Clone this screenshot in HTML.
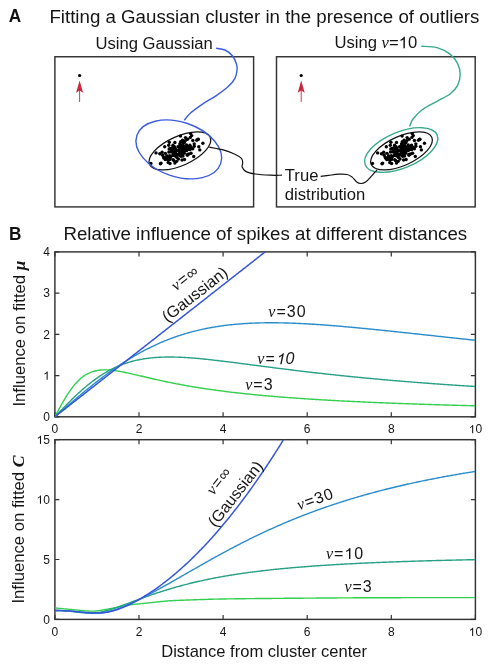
<!DOCTYPE html>
<html><head><meta charset="utf-8"><style>
html,body{margin:0;padding:0;background:#fff;}
body{width:491px;height:666px;position:relative;overflow:hidden;font-family:"Liberation Sans",sans-serif;}
</style></head><body>
<svg width="491" height="666" viewBox="0 0 491 666" style="position:absolute;left:0;top:0;will-change:transform">
<text transform="translate(8.7 22.0) scale(1 1.08)" x="0" y="0" font-family="Liberation Sans" font-weight="bold" font-size="17.2" fill="#111">A</text>
<text x="49.4" y="22.7" font-family="Liberation Sans" font-size="18.7" fill="#151515">Fitting a Gaussian cluster in the presence of outliers</text>
<text x="95.4" y="48.9" font-family="Liberation Sans" font-size="16.65" fill="#151515">Using Gaussian</text>
<text x="334.4" y="48.3" font-family="Liberation Sans" font-size="16.65" fill="#151515">Using <tspan font-family="Liberation Serif" font-style="italic">ν</tspan>=<tspan id="o0" fill="transparent">1</tspan>0</text>
<text x="284.8" y="181.1" font-family="Liberation Sans" font-size="16.65" fill="#151515">True</text>
<text x="284.8" y="199.8" font-family="Liberation Sans" font-size="16.65" fill="#151515">distribution</text>
<rect x="54.9" y="56.75" width="198.7" height="150.15" fill="none" stroke="#333333" stroke-width="1.45"/>
<rect x="276.5" y="56.75" width="198.7" height="150.15" fill="none" stroke="#333333" stroke-width="1.45"/>
<circle cx="79.6" cy="75.5" r="1.6" fill="#000"/>
<line x1="79.6" y1="102" x2="79.6" y2="88" stroke="#c62a3c" stroke-width="0.9"/>
<path d="M79.6 80.4 L83.1 92.8 L79.6 90.6 L76.1 92.8 Z" fill="#c62a3c"/>
<circle cx="301.2" cy="75.5" r="1.6" fill="#000"/>
<line x1="301.2" y1="102" x2="301.2" y2="88" stroke="#c62a3c" stroke-width="0.9"/>
<path d="M301.2 80.4 L304.7 92.8 L301.2 90.6 L297.7 92.8 Z" fill="#c62a3c"/>
<ellipse cx="179.9" cy="150.9" rx="33.2" ry="14.6" transform="rotate(-24.2 179.9 150.9)" fill="none" stroke="#111" stroke-width="1.25"/>
<g fill="#000"><circle cx="156" cy="152.9" r="1.7"/><circle cx="161.1" cy="163.1" r="1.7"/><circle cx="162.1" cy="152.2" r="1.7"/><circle cx="164.7" cy="146.8" r="1.7"/><circle cx="163.7" cy="157.5" r="1.7"/><circle cx="165.2" cy="159.5" r="1.7"/><circle cx="168.2" cy="162.6" r="1.7"/><circle cx="169.3" cy="142.2" r="1.7"/><circle cx="168.7" cy="145.3" r="1.7"/><circle cx="180.5" cy="136.1" r="1.7"/><circle cx="185.5" cy="137.6" r="1.7"/><circle cx="187.6" cy="139.2" r="1.7"/><circle cx="190.6" cy="133.6" r="1.7"/><circle cx="191.7" cy="135.6" r="1.7"/><circle cx="196.8" cy="140.2" r="1.7"/><circle cx="198.3" cy="139.2" r="1.7"/><circle cx="202.9" cy="143.2" r="1.7"/><circle cx="198.8" cy="146.8" r="1.7"/><circle cx="199.8" cy="149.9" r="1.7"/><circle cx="194.2" cy="146.3" r="1.7"/><circle cx="193.7" cy="156.5" r="1.7"/><circle cx="184.5" cy="159.5" r="1.7"/><circle cx="182" cy="160" r="1.7"/><circle cx="178.4" cy="159" r="1.7"/><circle cx="173.8" cy="160.5" r="1.7"/><circle cx="174.9" cy="163.1" r="1.7"/><circle cx="182.5" cy="140.2" r="1.7"/><circle cx="183.5" cy="143.2" r="1.7"/><circle cx="150.9" cy="163.4" r="1.7"/><circle cx="160.4" cy="163.8" r="1.7"/><circle cx="197.8" cy="139.4" r="1.7"/><circle cx="181.1" cy="156.19" r="1.7"/><circle cx="186.62" cy="144.96" r="1.7"/><circle cx="175.23" cy="150.44" r="1.7"/><circle cx="182.55" cy="149.02" r="1.7"/><circle cx="180.65" cy="141.77" r="1.7"/><circle cx="189.91" cy="145.24" r="1.7"/><circle cx="183.23" cy="148.32" r="1.7"/><circle cx="176.4" cy="154.39" r="1.7"/><circle cx="184.19" cy="147.55" r="1.7"/><circle cx="178.49" cy="154.38" r="1.7"/><circle cx="169.19" cy="148.89" r="1.7"/><circle cx="180.14" cy="147.39" r="1.7"/><circle cx="162.61" cy="155.29" r="1.7"/><circle cx="172.77" cy="148.6" r="1.7"/><circle cx="167.33" cy="156.87" r="1.7"/><circle cx="184.67" cy="147.18" r="1.7"/><circle cx="173.54" cy="155.42" r="1.7"/><circle cx="183.21" cy="147.58" r="1.7"/><circle cx="184.34" cy="153.16" r="1.7"/><circle cx="175.39" cy="149.06" r="1.7"/><circle cx="181.44" cy="150.95" r="1.7"/><circle cx="184.29" cy="142.57" r="1.7"/><circle cx="171.96" cy="150.62" r="1.7"/><circle cx="165.69" cy="158.08" r="1.7"/><circle cx="181.01" cy="146.66" r="1.7"/><circle cx="190.21" cy="149.29" r="1.7"/><circle cx="183.8" cy="150.5" r="1.7"/><circle cx="183.14" cy="142.91" r="1.7"/><circle cx="184.06" cy="151.29" r="1.7"/><circle cx="165.84" cy="159.01" r="1.7"/><circle cx="177.94" cy="155.09" r="1.7"/><circle cx="175.09" cy="152.83" r="1.7"/><circle cx="179.38" cy="146.82" r="1.7"/><circle cx="182.68" cy="148.74" r="1.7"/><circle cx="181.14" cy="147.59" r="1.7"/><circle cx="187.59" cy="149.58" r="1.7"/><circle cx="178.21" cy="154.28" r="1.7"/><circle cx="191.02" cy="153.32" r="1.7"/><circle cx="168.25" cy="160.28" r="1.7"/><circle cx="181.7" cy="149.26" r="1.7"/><circle cx="173.15" cy="159.6" r="1.7"/><circle cx="170.01" cy="157.98" r="1.7"/><circle cx="185.24" cy="140.67" r="1.7"/><circle cx="173.79" cy="147.58" r="1.7"/><circle cx="182.94" cy="155.99" r="1.7"/><circle cx="190.3" cy="137.38" r="1.7"/><circle cx="175.38" cy="155.98" r="1.7"/><circle cx="190.94" cy="147.11" r="1.7"/><circle cx="173.37" cy="155.11" r="1.7"/><circle cx="177.91" cy="150.61" r="1.7"/><circle cx="173.62" cy="155.4" r="1.7"/><circle cx="180.53" cy="149.84" r="1.7"/><circle cx="174.44" cy="147.37" r="1.7"/><circle cx="176.94" cy="157.51" r="1.7"/><circle cx="174.39" cy="146.69" r="1.7"/><circle cx="189.31" cy="148.4" r="1.7"/><circle cx="194.24" cy="143.86" r="1.7"/><circle cx="172.36" cy="147.64" r="1.7"/><circle cx="171.11" cy="151.9" r="1.7"/><circle cx="181.36" cy="146.07" r="1.7"/><circle cx="175.75" cy="151" r="1.7"/><circle cx="181.8" cy="154.64" r="1.7"/><circle cx="180.22" cy="154.61" r="1.7"/><circle cx="175.86" cy="154.04" r="1.7"/><circle cx="159.84" cy="153.74" r="1.7"/><circle cx="183.28" cy="146.23" r="1.7"/><circle cx="183.7" cy="151.19" r="1.7"/><circle cx="189.72" cy="149.48" r="1.7"/><circle cx="185.79" cy="147.19" r="1.7"/><circle cx="171.88" cy="151.14" r="1.7"/><circle cx="172.73" cy="148.91" r="1.7"/><circle cx="174.15" cy="152.95" r="1.7"/><circle cx="179.67" cy="149.14" r="1.7"/><circle cx="163.92" cy="158.03" r="1.7"/><circle cx="182.03" cy="154.48" r="1.7"/><circle cx="181.55" cy="146.83" r="1.7"/><circle cx="176.61" cy="161.34" r="1.7"/><circle cx="187.34" cy="155.3" r="1.7"/><circle cx="192.82" cy="140.54" r="1.7"/><circle cx="182.1" cy="151.59" r="1.7"/><circle cx="183.55" cy="151.26" r="1.7"/><circle cx="180.22" cy="151.21" r="1.7"/><circle cx="166.89" cy="156.16" r="1.7"/><circle cx="173.05" cy="154.48" r="1.7"/><circle cx="176.02" cy="155.28" r="1.7"/><circle cx="185.07" cy="149.46" r="1.7"/><circle cx="180.93" cy="150.49" r="1.7"/><circle cx="174.76" cy="152.32" r="1.7"/><circle cx="175.4" cy="154.53" r="1.7"/><circle cx="179.55" cy="153.39" r="1.7"/><circle cx="170.08" cy="159.41" r="1.7"/><circle cx="171.39" cy="151.37" r="1.7"/><circle cx="175.91" cy="149.94" r="1.7"/><circle cx="179.54" cy="148.12" r="1.7"/><circle cx="168.9" cy="152.07" r="1.7"/><circle cx="188.27" cy="146.69" r="1.7"/><circle cx="169.71" cy="155.58" r="1.7"/><circle cx="170.01" cy="163.56" r="1.7"/><circle cx="167.89" cy="158.61" r="1.7"/><circle cx="179.85" cy="143.98" r="1.7"/><circle cx="182.43" cy="153.88" r="1.7"/><circle cx="182.36" cy="150.56" r="1.7"/><circle cx="185.77" cy="148.44" r="1.7"/><circle cx="180.68" cy="149.61" r="1.7"/><circle cx="181.42" cy="145.53" r="1.7"/><circle cx="183.4" cy="146.56" r="1.7"/><circle cx="170.92" cy="156.61" r="1.7"/><circle cx="192.76" cy="148.68" r="1.7"/><circle cx="175.81" cy="155.75" r="1.7"/><circle cx="174.79" cy="152.5" r="1.7"/><circle cx="174.9" cy="142.44" r="1.7"/><circle cx="177.98" cy="146.81" r="1.7"/><circle cx="170.55" cy="148.4" r="1.7"/><circle cx="165.39" cy="153.34" r="1.7"/><circle cx="187.55" cy="154.44" r="1.7"/><circle cx="180.17" cy="155.42" r="1.7"/><circle cx="172.99" cy="145.21" r="1.7"/><circle cx="180.32" cy="152.4" r="1.7"/><circle cx="175.75" cy="153.97" r="1.7"/><circle cx="181.12" cy="146.04" r="1.7"/><circle cx="166.99" cy="155.86" r="1.7"/><circle cx="176.19" cy="150.77" r="1.7"/><circle cx="188.87" cy="154.07" r="1.7"/><circle cx="176.55" cy="155.39" r="1.7"/><circle cx="186.7" cy="150.5" r="1.7"/></g>
<ellipse cx="401.5" cy="150.9" rx="33.2" ry="14.6" transform="rotate(-24.2 401.5 150.9)" fill="none" stroke="#111" stroke-width="1.25"/>
<g fill="#000"><circle cx="377.6" cy="152.9" r="1.7"/><circle cx="382.7" cy="163.1" r="1.7"/><circle cx="383.7" cy="152.2" r="1.7"/><circle cx="386.3" cy="146.8" r="1.7"/><circle cx="385.3" cy="157.5" r="1.7"/><circle cx="386.8" cy="159.5" r="1.7"/><circle cx="389.8" cy="162.6" r="1.7"/><circle cx="390.9" cy="142.2" r="1.7"/><circle cx="390.3" cy="145.3" r="1.7"/><circle cx="402.1" cy="136.1" r="1.7"/><circle cx="407.1" cy="137.6" r="1.7"/><circle cx="409.2" cy="139.2" r="1.7"/><circle cx="412.2" cy="133.6" r="1.7"/><circle cx="413.3" cy="135.6" r="1.7"/><circle cx="418.4" cy="140.2" r="1.7"/><circle cx="419.9" cy="139.2" r="1.7"/><circle cx="424.5" cy="143.2" r="1.7"/><circle cx="420.4" cy="146.8" r="1.7"/><circle cx="421.4" cy="149.9" r="1.7"/><circle cx="415.8" cy="146.3" r="1.7"/><circle cx="415.3" cy="156.5" r="1.7"/><circle cx="406.1" cy="159.5" r="1.7"/><circle cx="403.6" cy="160" r="1.7"/><circle cx="400" cy="159" r="1.7"/><circle cx="395.4" cy="160.5" r="1.7"/><circle cx="396.5" cy="163.1" r="1.7"/><circle cx="404.1" cy="140.2" r="1.7"/><circle cx="405.1" cy="143.2" r="1.7"/><circle cx="372.5" cy="163.4" r="1.7"/><circle cx="382" cy="163.8" r="1.7"/><circle cx="419.4" cy="139.4" r="1.7"/><circle cx="402.7" cy="156.19" r="1.7"/><circle cx="408.22" cy="144.96" r="1.7"/><circle cx="396.83" cy="150.44" r="1.7"/><circle cx="404.15" cy="149.02" r="1.7"/><circle cx="402.25" cy="141.77" r="1.7"/><circle cx="411.51" cy="145.24" r="1.7"/><circle cx="404.83" cy="148.32" r="1.7"/><circle cx="398" cy="154.39" r="1.7"/><circle cx="405.79" cy="147.55" r="1.7"/><circle cx="400.09" cy="154.38" r="1.7"/><circle cx="390.79" cy="148.89" r="1.7"/><circle cx="401.74" cy="147.39" r="1.7"/><circle cx="384.21" cy="155.29" r="1.7"/><circle cx="394.37" cy="148.6" r="1.7"/><circle cx="388.93" cy="156.87" r="1.7"/><circle cx="406.27" cy="147.18" r="1.7"/><circle cx="395.14" cy="155.42" r="1.7"/><circle cx="404.81" cy="147.58" r="1.7"/><circle cx="405.94" cy="153.16" r="1.7"/><circle cx="396.99" cy="149.06" r="1.7"/><circle cx="403.04" cy="150.95" r="1.7"/><circle cx="405.89" cy="142.57" r="1.7"/><circle cx="393.56" cy="150.62" r="1.7"/><circle cx="387.29" cy="158.08" r="1.7"/><circle cx="402.61" cy="146.66" r="1.7"/><circle cx="411.81" cy="149.29" r="1.7"/><circle cx="405.4" cy="150.5" r="1.7"/><circle cx="404.74" cy="142.91" r="1.7"/><circle cx="405.66" cy="151.29" r="1.7"/><circle cx="387.44" cy="159.01" r="1.7"/><circle cx="399.54" cy="155.09" r="1.7"/><circle cx="396.69" cy="152.83" r="1.7"/><circle cx="400.98" cy="146.82" r="1.7"/><circle cx="404.28" cy="148.74" r="1.7"/><circle cx="402.74" cy="147.59" r="1.7"/><circle cx="409.19" cy="149.58" r="1.7"/><circle cx="399.81" cy="154.28" r="1.7"/><circle cx="412.62" cy="153.32" r="1.7"/><circle cx="389.85" cy="160.28" r="1.7"/><circle cx="403.3" cy="149.26" r="1.7"/><circle cx="394.75" cy="159.6" r="1.7"/><circle cx="391.61" cy="157.98" r="1.7"/><circle cx="406.84" cy="140.67" r="1.7"/><circle cx="395.39" cy="147.58" r="1.7"/><circle cx="404.54" cy="155.99" r="1.7"/><circle cx="411.9" cy="137.38" r="1.7"/><circle cx="396.98" cy="155.98" r="1.7"/><circle cx="412.54" cy="147.11" r="1.7"/><circle cx="394.97" cy="155.11" r="1.7"/><circle cx="399.51" cy="150.61" r="1.7"/><circle cx="395.22" cy="155.4" r="1.7"/><circle cx="402.13" cy="149.84" r="1.7"/><circle cx="396.04" cy="147.37" r="1.7"/><circle cx="398.54" cy="157.51" r="1.7"/><circle cx="395.99" cy="146.69" r="1.7"/><circle cx="410.91" cy="148.4" r="1.7"/><circle cx="415.84" cy="143.86" r="1.7"/><circle cx="393.96" cy="147.64" r="1.7"/><circle cx="392.71" cy="151.9" r="1.7"/><circle cx="402.96" cy="146.07" r="1.7"/><circle cx="397.35" cy="151" r="1.7"/><circle cx="403.4" cy="154.64" r="1.7"/><circle cx="401.82" cy="154.61" r="1.7"/><circle cx="397.46" cy="154.04" r="1.7"/><circle cx="381.44" cy="153.74" r="1.7"/><circle cx="404.88" cy="146.23" r="1.7"/><circle cx="405.3" cy="151.19" r="1.7"/><circle cx="411.32" cy="149.48" r="1.7"/><circle cx="407.39" cy="147.19" r="1.7"/><circle cx="393.48" cy="151.14" r="1.7"/><circle cx="394.33" cy="148.91" r="1.7"/><circle cx="395.75" cy="152.95" r="1.7"/><circle cx="401.27" cy="149.14" r="1.7"/><circle cx="385.52" cy="158.03" r="1.7"/><circle cx="403.63" cy="154.48" r="1.7"/><circle cx="403.15" cy="146.83" r="1.7"/><circle cx="398.21" cy="161.34" r="1.7"/><circle cx="408.94" cy="155.3" r="1.7"/><circle cx="414.42" cy="140.54" r="1.7"/><circle cx="403.7" cy="151.59" r="1.7"/><circle cx="405.15" cy="151.26" r="1.7"/><circle cx="401.82" cy="151.21" r="1.7"/><circle cx="388.49" cy="156.16" r="1.7"/><circle cx="394.65" cy="154.48" r="1.7"/><circle cx="397.62" cy="155.28" r="1.7"/><circle cx="406.67" cy="149.46" r="1.7"/><circle cx="402.53" cy="150.49" r="1.7"/><circle cx="396.36" cy="152.32" r="1.7"/><circle cx="397" cy="154.53" r="1.7"/><circle cx="401.15" cy="153.39" r="1.7"/><circle cx="391.68" cy="159.41" r="1.7"/><circle cx="392.99" cy="151.37" r="1.7"/><circle cx="397.51" cy="149.94" r="1.7"/><circle cx="401.14" cy="148.12" r="1.7"/><circle cx="390.5" cy="152.07" r="1.7"/><circle cx="409.87" cy="146.69" r="1.7"/><circle cx="391.31" cy="155.58" r="1.7"/><circle cx="391.61" cy="163.56" r="1.7"/><circle cx="389.49" cy="158.61" r="1.7"/><circle cx="401.45" cy="143.98" r="1.7"/><circle cx="404.03" cy="153.88" r="1.7"/><circle cx="403.96" cy="150.56" r="1.7"/><circle cx="407.37" cy="148.44" r="1.7"/><circle cx="402.28" cy="149.61" r="1.7"/><circle cx="403.02" cy="145.53" r="1.7"/><circle cx="405" cy="146.56" r="1.7"/><circle cx="392.52" cy="156.61" r="1.7"/><circle cx="414.36" cy="148.68" r="1.7"/><circle cx="397.41" cy="155.75" r="1.7"/><circle cx="396.39" cy="152.5" r="1.7"/><circle cx="396.5" cy="142.44" r="1.7"/><circle cx="399.58" cy="146.81" r="1.7"/><circle cx="392.15" cy="148.4" r="1.7"/><circle cx="386.99" cy="153.34" r="1.7"/><circle cx="409.15" cy="154.44" r="1.7"/><circle cx="401.77" cy="155.42" r="1.7"/><circle cx="394.59" cy="145.21" r="1.7"/><circle cx="401.92" cy="152.4" r="1.7"/><circle cx="397.35" cy="153.97" r="1.7"/><circle cx="402.72" cy="146.04" r="1.7"/><circle cx="388.59" cy="155.86" r="1.7"/><circle cx="397.79" cy="150.77" r="1.7"/><circle cx="410.47" cy="154.07" r="1.7"/><circle cx="398.15" cy="155.39" r="1.7"/><circle cx="408.3" cy="150.5" r="1.7"/></g>
<ellipse cx="178.8" cy="149.4" rx="44.2" ry="27.3" transform="rotate(18.4 178.8 149.4)" fill="none" stroke="#3c5cdf" stroke-width="1.4"/>
<ellipse cx="401.2" cy="150.0" rx="38.9" ry="18.0" transform="rotate(-22.6 401.2 150.0)" fill="none" stroke="#36aa8c" stroke-width="1.4"/>
<path d="M216.1 48.2 C217.58 48.5 222.25 48.7 225 50 C227.75 51.3 230.72 53.75 232.6 56 C234.48 58.25 235.55 61.25 236.3 63.5 C237.05 65.75 237.35 66.98 237.1 69.5 C236.85 72.02 236.32 75.72 234.8 78.6 C233.28 81.48 231.13 83.93 228 86.8 C224.87 89.67 220.25 92.92 216 95.8 C211.75 98.68 206.75 101.22 202.5 104.1 C198.25 106.98 193.55 110.4 190.5 113.1 C187.45 115.8 185.25 119.1 184.2 120.3" fill="none" stroke="#3c5cdf" stroke-width="1.4"/>
<path d="M421.3 46.3 C423.92 46.52 432.22 46.3 437 47.6 C441.78 48.9 446.58 51.47 450 54.1 C453.42 56.73 455.8 60 457.5 63.4 C459.2 66.8 460.2 70.8 460.2 74.5 C460.2 78.2 459.2 82.35 457.5 85.6 C455.8 88.85 453.42 91.38 450 94 C446.58 96.62 441.63 98.68 437 101.3 C432.37 103.92 426.2 106.75 422.2 109.7 C418.2 112.65 415.1 116.22 413 119 C410.9 121.78 410.17 125.17 409.6 126.4" fill="none" stroke="#36aa8c" stroke-width="1.4"/>
<path d="M209.3 147.1 C211.47 147.53 218.12 148.55 222.3 149.7 C226.48 150.85 231.22 152.55 234.4 154 C237.58 155.45 240.02 156.95 241.4 158.4 C242.78 159.85 242.57 161.27 242.7 162.7 C242.83 164.13 241.7 165.55 242.2 167 C242.7 168.45 243.53 170.23 245.7 171.4 C247.87 172.57 251.02 173.37 255.2 174 C259.38 174.63 266.33 175 270.8 175.2 C275.27 175.4 280.13 175.2 282 175.2" fill="none" stroke="#111" stroke-width="1.2"/>
<path d="M320.7 176.4 C322.02 176.23 325.63 175.77 328.6 175.4 C331.57 175.03 335.42 174.35 338.5 174.2 C341.58 174.05 344.83 174.02 347.1 174.5 C349.37 174.98 350.55 175.9 352.1 177.1 C353.65 178.3 354.98 180.63 356.4 181.7 C357.82 182.77 359.07 183.43 360.6 183.5 C362.13 183.57 363.93 183.17 365.6 182.1 C367.27 181.03 369.05 178.77 370.6 177.1 C372.15 175.43 373.83 173.28 374.9 172.1 C375.97 170.92 376.65 170.35 377 170" fill="none" stroke="#111" stroke-width="1.2"/>
<text transform="translate(9.1 240.1) scale(1 1.08)" x="0" y="0" font-family="Liberation Sans" font-weight="bold" font-size="17.2" fill="#111">B</text>
<text x="63.4" y="240.3" font-family="Liberation Sans" font-size="18.7" fill="#151515">Relative influence of spikes at different distances</text>
<rect x="54.9" y="251.9" width="420.5" height="164.9" fill="none" stroke="#333333" stroke-width="1.45"/>
<path d="M54.9 416.8 v-4.5 M54.9 251.9 v4.5 M139 416.8 v-4.5 M139 251.9 v4.5 M223.1 416.8 v-4.5 M223.1 251.9 v4.5 M307.2 416.8 v-4.5 M307.2 251.9 v4.5 M391.3 416.8 v-4.5 M391.3 251.9 v4.5 M475.4 416.8 v-4.5 M475.4 251.9 v4.5 M54.9 416.8 h4.5 M475.4 416.8 h-4.5 M54.9 375.57 h4.5 M475.4 375.57 h-4.5 M54.9 334.35 h4.5 M475.4 334.35 h-4.5 M54.9 293.12 h4.5 M475.4 293.12 h-4.5 M54.9 251.9 h4.5 M475.4 251.9 h-4.5 " stroke="#333333" stroke-width="1.2" fill="none"/>
<text x="54.9" y="433.3" text-anchor="middle" font-family="Liberation Sans" font-size="12" fill="#151515">0</text>
<text x="139" y="433.3" text-anchor="middle" font-family="Liberation Sans" font-size="12" fill="#151515">2</text>
<text x="223.1" y="433.3" text-anchor="middle" font-family="Liberation Sans" font-size="12" fill="#151515">4</text>
<text x="307.2" y="433.3" text-anchor="middle" font-family="Liberation Sans" font-size="12" fill="#151515">6</text>
<text x="391.3" y="433.3" text-anchor="middle" font-family="Liberation Sans" font-size="12" fill="#151515">8</text>
<text x="475.4" y="433.3" text-anchor="middle" font-family="Liberation Sans" font-size="12" fill="#151515"><tspan id="o1" fill="transparent">1</tspan>0</text>
<text x="49.9" y="421" text-anchor="end" font-family="Liberation Sans" font-size="12" fill="#151515">0</text>
<text x="49.9" y="379.77" text-anchor="end" font-family="Liberation Sans" font-size="12" fill="#151515"><tspan id="o2" fill="transparent">1</tspan></text>
<text x="49.9" y="338.55" text-anchor="end" font-family="Liberation Sans" font-size="12" fill="#151515">2</text>
<text x="49.9" y="297.32" text-anchor="end" font-family="Liberation Sans" font-size="12" fill="#151515">3</text>
<text x="49.9" y="256.1" text-anchor="end" font-family="Liberation Sans" font-size="12" fill="#151515">4</text>
<rect x="54.9" y="439.7" width="420.5" height="179.7" fill="none" stroke="#333333" stroke-width="1.45"/>
<path d="M54.9 619.4 v-4.5 M54.9 439.7 v4.5 M139 619.4 v-4.5 M139 439.7 v4.5 M223.1 619.4 v-4.5 M223.1 439.7 v4.5 M307.2 619.4 v-4.5 M307.2 439.7 v4.5 M391.3 619.4 v-4.5 M391.3 439.7 v4.5 M475.4 619.4 v-4.5 M475.4 439.7 v4.5 M54.9 619.4 h4.5 M475.4 619.4 h-4.5 M54.9 559.5 h4.5 M475.4 559.5 h-4.5 M54.9 499.6 h4.5 M475.4 499.6 h-4.5 M54.9 439.7 h4.5 M475.4 439.7 h-4.5 " stroke="#333333" stroke-width="1.2" fill="none"/>
<text x="54.9" y="635.9" text-anchor="middle" font-family="Liberation Sans" font-size="12" fill="#151515">0</text>
<text x="139" y="635.9" text-anchor="middle" font-family="Liberation Sans" font-size="12" fill="#151515">2</text>
<text x="223.1" y="635.9" text-anchor="middle" font-family="Liberation Sans" font-size="12" fill="#151515">4</text>
<text x="307.2" y="635.9" text-anchor="middle" font-family="Liberation Sans" font-size="12" fill="#151515">6</text>
<text x="391.3" y="635.9" text-anchor="middle" font-family="Liberation Sans" font-size="12" fill="#151515">8</text>
<text x="475.4" y="635.9" text-anchor="middle" font-family="Liberation Sans" font-size="12" fill="#151515"><tspan id="o3" fill="transparent">1</tspan>0</text>
<text x="49.9" y="623.6" text-anchor="end" font-family="Liberation Sans" font-size="12" fill="#151515">0</text>
<text x="49.9" y="563.7" text-anchor="end" font-family="Liberation Sans" font-size="12" fill="#151515">5</text>
<text x="49.9" y="503.8" text-anchor="end" font-family="Liberation Sans" font-size="12" fill="#151515"><tspan id="o4" fill="transparent">1</tspan>0</text>
<text x="49.9" y="443.9" text-anchor="end" font-family="Liberation Sans" font-size="12" fill="#151515"><tspan id="o5" fill="transparent">1</tspan>5</text>
<defs>
<clipPath id="c1"><rect x="54.9" y="251.9" width="420.5" height="164.9"/></clipPath>
<clipPath id="c2"><rect x="54.9" y="439.7" width="420.5" height="179.7"/></clipPath>
</defs>
<path d="M54.9 416.8 L55.95 414.82 L57 412.85 L58.05 410.89 L59.1 408.94 L60.16 407.02 L61.21 405.12 L62.26 403.25 L63.31 401.41 L64.36 399.62 L65.41 397.86 L66.46 396.15 L67.52 394.49 L68.57 392.88 L69.62 391.32 L70.67 389.82 L71.72 388.38 L72.77 386.99 L73.82 385.67 L74.87 384.4 L75.92 383.2 L76.98 382.06 L78.03 380.97 L79.08 379.95 L80.13 378.98 L81.18 378.08 L82.23 377.23 L83.28 376.44 L84.34 375.7 L85.39 375.02 L86.44 374.38 L87.49 373.8 L88.54 373.27 L89.59 372.78 L90.64 372.33 L91.69 371.93 L92.75 371.58 L93.8 371.25 L94.85 370.97 L95.9 370.72 L96.95 370.51 L98 370.33 L99.05 370.18 L100.1 370.06 L101.16 369.96 L102.21 369.9 L103.26 369.85 L104.31 369.83 L105.36 369.83 L106.41 369.85 L107.46 369.89 L108.51 369.95 L109.56 370.02 L110.62 370.11 L111.67 370.21 L112.72 370.33 L113.77 370.46 L114.82 370.6 L115.87 370.75 L116.92 370.91 L117.97 371.08 L119.03 371.26 L120.08 371.45 L121.13 371.64 L122.18 371.84 L123.23 372.05 L124.28 372.26 L125.33 372.48 L126.38 372.7 L127.44 372.92 L128.49 373.15 L129.54 373.38 L130.59 373.62 L131.64 373.85 L132.69 374.09 L133.74 374.34 L134.8 374.58 L135.85 374.82 L136.9 375.07 L137.95 375.31 L139 375.56 L140.05 375.81 L141.1 376.05 L142.15 376.3 L143.21 376.55 L144.26 376.8 L145.31 377.04 L146.36 377.29 L147.41 377.53 L148.46 377.78 L149.51 378.02 L150.56 378.26 L151.62 378.51 L152.67 378.75 L153.72 378.98 L154.77 379.22 L155.82 379.46 L156.87 379.69 L157.92 379.93 L158.97 380.16 L160.03 380.39 L161.08 380.62 L162.13 380.85 L163.18 381.07 L164.23 381.3 L165.28 381.52 L166.33 381.74 L167.38 381.96 L168.44 382.18 L169.49 382.4 L170.54 382.61 L171.59 382.82 L172.64 383.03 L173.69 383.24 L174.74 383.45 L175.79 383.65 L176.84 383.86 L177.9 384.06 L178.95 384.26 L180 384.46 L181.05 384.65 L182.1 384.85 L183.15 385.04 L184.2 385.23 L185.25 385.42 L186.31 385.61 L187.36 385.79 L188.41 385.98 L189.46 386.16 L190.51 386.34 L191.56 386.52 L192.61 386.7 L193.67 386.87 L194.72 387.04 L195.77 387.22 L196.82 387.39 L197.87 387.56 L198.92 387.72 L199.97 387.89 L201.02 388.05 L202.08 388.22 L203.13 388.38 L204.18 388.54 L205.23 388.7 L206.28 388.85 L207.33 389.01 L208.38 389.16 L209.43 389.31 L210.49 389.47 L211.54 389.61 L212.59 389.76 L213.64 389.91 L214.69 390.05 L215.74 390.2 L216.79 390.34 L217.84 390.48 L218.9 390.62 L219.95 390.76 L221 390.9 L222.05 391.04 L223.1 391.17 L224.15 391.3 L225.2 391.44 L226.25 391.57 L227.31 391.7 L228.36 391.83 L229.41 391.95 L230.46 392.08 L231.51 392.21 L232.56 392.33 L233.61 392.45 L234.66 392.57 L235.72 392.7 L236.77 392.81 L237.82 392.93 L238.87 393.05 L239.92 393.17 L240.97 393.28 L242.02 393.4 L243.07 393.51 L244.12 393.62 L245.18 393.74 L246.23 393.85 L247.28 393.96 L248.33 394.06 L249.38 394.17 L250.43 394.28 L251.48 394.38 L252.54 394.49 L253.59 394.59 L254.64 394.7 L255.69 394.8 L256.74 394.9 L257.79 395 L258.84 395.1 L259.89 395.2 L260.94 395.3 L262 395.39 L263.05 395.49 L264.1 395.59 L265.15 395.68 L266.2 395.77 L267.25 395.87 L268.3 395.96 L269.36 396.05 L270.41 396.14 L271.46 396.23 L272.51 396.32 L273.56 396.41 L274.61 396.5 L275.66 396.59 L276.71 396.67 L277.76 396.76 L278.82 396.84 L279.87 396.93 L280.92 397.01 L281.97 397.09 L283.02 397.18 L284.07 397.26 L285.12 397.34 L286.18 397.42 L287.23 397.5 L288.28 397.58 L289.33 397.66 L290.38 397.74 L291.43 397.81 L292.48 397.89 L293.53 397.97 L294.58 398.04 L295.64 398.12 L296.69 398.19 L297.74 398.27 L298.79 398.34 L299.84 398.41 L300.89 398.49 L301.94 398.56 L303 398.63 L304.05 398.7 L305.1 398.77 L306.15 398.84 L307.2 398.91 L308.25 398.98 L309.3 399.05 L310.35 399.11 L311.4 399.18 L312.46 399.25 L313.51 399.31 L314.56 399.38 L315.61 399.44 L316.66 399.51 L317.71 399.57 L318.76 399.64 L319.81 399.7 L320.87 399.76 L321.92 399.83 L322.97 399.89 L324.02 399.95 L325.07 400.01 L326.12 400.07 L327.17 400.13 L328.22 400.19 L329.28 400.25 L330.33 400.31 L331.38 400.37 L332.43 400.43 L333.48 400.49 L334.53 400.54 L335.58 400.6 L336.63 400.66 L337.69 400.71 L338.74 400.77 L339.79 400.83 L340.84 400.88 L341.89 400.94 L342.94 400.99 L343.99 401.04 L345.05 401.1 L346.1 401.15 L347.15 401.2 L348.2 401.26 L349.25 401.31 L350.3 401.36 L351.35 401.41 L352.4 401.46 L353.45 401.52 L354.51 401.57 L355.56 401.62 L356.61 401.67 L357.66 401.72 L358.71 401.77 L359.76 401.82 L360.81 401.86 L361.87 401.91 L362.92 401.96 L363.97 402.01 L365.02 402.06 L366.07 402.1 L367.12 402.15 L368.17 402.2 L369.22 402.24 L370.27 402.29 L371.33 402.34 L372.38 402.38 L373.43 402.43 L374.48 402.47 L375.53 402.52 L376.58 402.56 L377.63 402.6 L378.68 402.65 L379.74 402.69 L380.79 402.74 L381.84 402.78 L382.89 402.82 L383.94 402.86 L384.99 402.91 L386.04 402.95 L387.1 402.99 L388.15 403.03 L389.2 403.07 L390.25 403.12 L391.3 403.16 L392.35 403.2 L393.4 403.24 L394.45 403.28 L395.5 403.32 L396.56 403.36 L397.61 403.4 L398.66 403.44 L399.71 403.48 L400.76 403.51 L401.81 403.55 L402.86 403.59 L403.91 403.63 L404.97 403.67 L406.02 403.7 L407.07 403.74 L408.12 403.78 L409.17 403.82 L410.22 403.85 L411.27 403.89 L412.32 403.93 L413.38 403.96 L414.43 404 L415.48 404.04 L416.53 404.07 L417.58 404.11 L418.63 404.14 L419.68 404.18 L420.74 404.21 L421.79 404.25 L422.84 404.28 L423.89 404.32 L424.94 404.35 L425.99 404.38 L427.04 404.42 L428.09 404.45 L429.14 404.48 L430.2 404.52 L431.25 404.55 L432.3 404.58 L433.35 404.62 L434.4 404.65 L435.45 404.68 L436.5 404.71 L437.55 404.75 L438.61 404.78 L439.66 404.81 L440.71 404.84 L441.76 404.87 L442.81 404.9 L443.86 404.94 L444.91 404.97 L445.96 405 L447.02 405.03 L448.07 405.06 L449.12 405.09 L450.17 405.12 L451.22 405.15 L452.27 405.18 L453.32 405.21 L454.38 405.24 L455.43 405.27 L456.48 405.3 L457.53 405.33 L458.58 405.35 L459.63 405.38 L460.68 405.41 L461.73 405.44 L462.79 405.47 L463.84 405.5 L464.89 405.53 L465.94 405.55 L466.99 405.58 L468.04 405.61 L469.09 405.64 L470.14 405.66 L471.19 405.69 L472.25 405.72 L473.3 405.75 L474.35 405.77 L475.4 405.8" fill="none" stroke="#35cf50" stroke-width="1.4" clip-path="url(#c1)"/>
<path d="M54.9 416.8 L55.95 415.7 L57 414.6 L58.05 413.51 L59.1 412.41 L60.16 411.32 L61.21 410.23 L62.26 409.14 L63.31 408.06 L64.36 406.98 L65.41 405.9 L66.46 404.83 L67.52 403.77 L68.57 402.72 L69.62 401.67 L70.67 400.62 L71.72 399.59 L72.77 398.56 L73.82 397.55 L74.87 396.54 L75.92 395.54 L76.98 394.55 L78.03 393.57 L79.08 392.61 L80.13 391.65 L81.18 390.71 L82.23 389.77 L83.28 388.85 L84.34 387.94 L85.39 387.05 L86.44 386.16 L87.49 385.29 L88.54 384.44 L89.59 383.59 L90.64 382.76 L91.69 381.95 L92.75 381.14 L93.8 380.36 L94.85 379.58 L95.9 378.82 L96.95 378.08 L98 377.35 L99.05 376.63 L100.1 375.93 L101.16 375.24 L102.21 374.57 L103.26 373.92 L104.31 373.27 L105.36 372.65 L106.41 372.03 L107.46 371.44 L108.51 370.85 L109.56 370.28 L110.62 369.73 L111.67 369.19 L112.72 368.66 L113.77 368.15 L114.82 367.65 L115.87 367.17 L116.92 366.7 L117.97 366.24 L119.03 365.8 L120.08 365.37 L121.13 364.95 L122.18 364.55 L123.23 364.16 L124.28 363.78 L125.33 363.42 L126.38 363.06 L127.44 362.72 L128.49 362.39 L129.54 362.08 L130.59 361.77 L131.64 361.48 L132.69 361.2 L133.74 360.93 L134.8 360.67 L135.85 360.42 L136.9 360.18 L137.95 359.95 L139 359.74 L140.05 359.53 L141.1 359.33 L142.15 359.14 L143.21 358.96 L144.26 358.79 L145.31 358.63 L146.36 358.48 L147.41 358.34 L148.46 358.2 L149.51 358.08 L150.56 357.96 L151.62 357.85 L152.67 357.74 L153.72 357.65 L154.77 357.56 L155.82 357.48 L156.87 357.41 L157.92 357.34 L158.97 357.28 L160.03 357.23 L161.08 357.18 L162.13 357.14 L163.18 357.11 L164.23 357.08 L165.28 357.05 L166.33 357.04 L167.38 357.02 L168.44 357.02 L169.49 357.02 L170.54 357.02 L171.59 357.03 L172.64 357.04 L173.69 357.06 L174.74 357.08 L175.79 357.11 L176.84 357.14 L177.9 357.17 L178.95 357.21 L180 357.25 L181.05 357.3 L182.1 357.35 L183.15 357.4 L184.2 357.46 L185.25 357.52 L186.31 357.59 L187.36 357.65 L188.41 357.72 L189.46 357.79 L190.51 357.87 L191.56 357.95 L192.61 358.03 L193.67 358.11 L194.72 358.2 L195.77 358.29 L196.82 358.38 L197.87 358.47 L198.92 358.57 L199.97 358.66 L201.02 358.76 L202.08 358.86 L203.13 358.97 L204.18 359.07 L205.23 359.18 L206.28 359.29 L207.33 359.4 L208.38 359.51 L209.43 359.62 L210.49 359.74 L211.54 359.85 L212.59 359.97 L213.64 360.09 L214.69 360.21 L215.74 360.33 L216.79 360.45 L217.84 360.57 L218.9 360.69 L219.95 360.82 L221 360.95 L222.05 361.07 L223.1 361.2 L224.15 361.33 L225.2 361.46 L226.25 361.59 L227.31 361.72 L228.36 361.85 L229.41 361.98 L230.46 362.11 L231.51 362.24 L232.56 362.38 L233.61 362.51 L234.66 362.64 L235.72 362.78 L236.77 362.91 L237.82 363.05 L238.87 363.18 L239.92 363.32 L240.97 363.45 L242.02 363.59 L243.07 363.73 L244.12 363.86 L245.18 364 L246.23 364.14 L247.28 364.27 L248.33 364.41 L249.38 364.55 L250.43 364.69 L251.48 364.82 L252.54 364.96 L253.59 365.1 L254.64 365.24 L255.69 365.37 L256.74 365.51 L257.79 365.65 L258.84 365.78 L259.89 365.92 L260.94 366.06 L262 366.2 L263.05 366.33 L264.1 366.47 L265.15 366.6 L266.2 366.74 L267.25 366.88 L268.3 367.01 L269.36 367.15 L270.41 367.28 L271.46 367.42 L272.51 367.55 L273.56 367.69 L274.61 367.82 L275.66 367.96 L276.71 368.09 L277.76 368.23 L278.82 368.36 L279.87 368.49 L280.92 368.63 L281.97 368.76 L283.02 368.89 L284.07 369.02 L285.12 369.15 L286.18 369.28 L287.23 369.42 L288.28 369.55 L289.33 369.68 L290.38 369.81 L291.43 369.94 L292.48 370.06 L293.53 370.19 L294.58 370.32 L295.64 370.45 L296.69 370.58 L297.74 370.7 L298.79 370.83 L299.84 370.96 L300.89 371.08 L301.94 371.21 L303 371.34 L304.05 371.46 L305.1 371.58 L306.15 371.71 L307.2 371.83 L308.25 371.96 L309.3 372.08 L310.35 372.2 L311.4 372.32 L312.46 372.44 L313.51 372.57 L314.56 372.69 L315.61 372.81 L316.66 372.93 L317.71 373.05 L318.76 373.17 L319.81 373.28 L320.87 373.4 L321.92 373.52 L322.97 373.64 L324.02 373.75 L325.07 373.87 L326.12 373.99 L327.17 374.1 L328.22 374.22 L329.28 374.33 L330.33 374.45 L331.38 374.56 L332.43 374.67 L333.48 374.79 L334.53 374.9 L335.58 375.01 L336.63 375.12 L337.69 375.23 L338.74 375.35 L339.79 375.46 L340.84 375.57 L341.89 375.68 L342.94 375.78 L343.99 375.89 L345.05 376 L346.1 376.11 L347.15 376.22 L348.2 376.32 L349.25 376.43 L350.3 376.54 L351.35 376.64 L352.4 376.75 L353.45 376.85 L354.51 376.96 L355.56 377.06 L356.61 377.16 L357.66 377.27 L358.71 377.37 L359.76 377.47 L360.81 377.57 L361.87 377.68 L362.92 377.78 L363.97 377.88 L365.02 377.98 L366.07 378.08 L367.12 378.18 L368.17 378.28 L369.22 378.38 L370.27 378.47 L371.33 378.57 L372.38 378.67 L373.43 378.77 L374.48 378.86 L375.53 378.96 L376.58 379.05 L377.63 379.15 L378.68 379.25 L379.74 379.34 L380.79 379.43 L381.84 379.53 L382.89 379.62 L383.94 379.71 L384.99 379.81 L386.04 379.9 L387.1 379.99 L388.15 380.08 L389.2 380.17 L390.25 380.27 L391.3 380.36 L392.35 380.45 L393.4 380.54 L394.45 380.62 L395.5 380.71 L396.56 380.8 L397.61 380.89 L398.66 380.98 L399.71 381.07 L400.76 381.15 L401.81 381.24 L402.86 381.33 L403.91 381.41 L404.97 381.5 L406.02 381.58 L407.07 381.67 L408.12 381.75 L409.17 381.84 L410.22 381.92 L411.27 382.01 L412.32 382.09 L413.38 382.17 L414.43 382.25 L415.48 382.34 L416.53 382.42 L417.58 382.5 L418.63 382.58 L419.68 382.66 L420.74 382.74 L421.79 382.82 L422.84 382.9 L423.89 382.98 L424.94 383.06 L425.99 383.14 L427.04 383.22 L428.09 383.3 L429.14 383.38 L430.2 383.45 L431.25 383.53 L432.3 383.61 L433.35 383.68 L434.4 383.76 L435.45 383.84 L436.5 383.91 L437.55 383.99 L438.61 384.06 L439.66 384.14 L440.71 384.21 L441.76 384.29 L442.81 384.36 L443.86 384.44 L444.91 384.51 L445.96 384.58 L447.02 384.65 L448.07 384.73 L449.12 384.8 L450.17 384.87 L451.22 384.94 L452.27 385.01 L453.32 385.09 L454.38 385.16 L455.43 385.23 L456.48 385.3 L457.53 385.37 L458.58 385.44 L459.63 385.51 L460.68 385.58 L461.73 385.64 L462.79 385.71 L463.84 385.78 L464.89 385.85 L465.94 385.92 L466.99 385.98 L468.04 386.05 L469.09 386.12 L470.14 386.18 L471.19 386.25 L472.25 386.32 L473.3 386.38 L474.35 386.45 L475.4 386.51" fill="none" stroke="#27a087" stroke-width="1.4" clip-path="url(#c1)"/>
<path d="M54.9 416.8 L55.95 415.89 L57 414.97 L58.05 414.06 L59.1 413.15 L60.16 412.24 L61.21 411.33 L62.26 410.42 L63.31 409.51 L64.36 408.6 L65.41 407.69 L66.46 406.78 L67.52 405.88 L68.57 404.98 L69.62 404.07 L70.67 403.17 L71.72 402.28 L72.77 401.38 L73.82 400.49 L74.87 399.6 L75.92 398.71 L76.98 397.82 L78.03 396.94 L79.08 396.06 L80.13 395.18 L81.18 394.3 L82.23 393.43 L83.28 392.56 L84.34 391.7 L85.39 390.83 L86.44 389.97 L87.49 389.12 L88.54 388.27 L89.59 387.42 L90.64 386.58 L91.69 385.74 L92.75 384.9 L93.8 384.07 L94.85 383.24 L95.9 382.42 L96.95 381.6 L98 380.79 L99.05 379.98 L100.1 379.17 L101.16 378.37 L102.21 377.58 L103.26 376.79 L104.31 376.01 L105.36 375.23 L106.41 374.45 L107.46 373.68 L108.51 372.92 L109.56 372.16 L110.62 371.41 L111.67 370.66 L112.72 369.92 L113.77 369.18 L114.82 368.45 L115.87 367.73 L116.92 367.01 L117.97 366.3 L119.03 365.59 L120.08 364.89 L121.13 364.19 L122.18 363.51 L123.23 362.82 L124.28 362.15 L125.33 361.47 L126.38 360.81 L127.44 360.15 L128.49 359.5 L129.54 358.85 L130.59 358.21 L131.64 357.58 L132.69 356.95 L133.74 356.33 L134.8 355.72 L135.85 355.11 L136.9 354.51 L137.95 353.92 L139 353.33 L140.05 352.74 L141.1 352.17 L142.15 351.6 L143.21 351.04 L144.26 350.48 L145.31 349.93 L146.36 349.39 L147.41 348.85 L148.46 348.32 L149.51 347.8 L150.56 347.28 L151.62 346.77 L152.67 346.26 L153.72 345.77 L154.77 345.27 L155.82 344.79 L156.87 344.31 L157.92 343.84 L158.97 343.37 L160.03 342.91 L161.08 342.46 L162.13 342.01 L163.18 341.57 L164.23 341.13 L165.28 340.7 L166.33 340.28 L167.38 339.86 L168.44 339.45 L169.49 339.05 L170.54 338.65 L171.59 338.26 L172.64 337.87 L173.69 337.49 L174.74 337.12 L175.79 336.75 L176.84 336.39 L177.9 336.03 L178.95 335.68 L180 335.34 L181.05 335 L182.1 334.67 L183.15 334.34 L184.2 334.02 L185.25 333.7 L186.31 333.39 L187.36 333.09 L188.41 332.79 L189.46 332.49 L190.51 332.2 L191.56 331.92 L192.61 331.64 L193.67 331.37 L194.72 331.1 L195.77 330.84 L196.82 330.58 L197.87 330.33 L198.92 330.08 L199.97 329.84 L201.02 329.6 L202.08 329.37 L203.13 329.14 L204.18 328.92 L205.23 328.7 L206.28 328.49 L207.33 328.28 L208.38 328.08 L209.43 327.88 L210.49 327.69 L211.54 327.5 L212.59 327.31 L213.64 327.13 L214.69 326.95 L215.74 326.78 L216.79 326.62 L217.84 326.45 L218.9 326.29 L219.95 326.14 L221 325.99 L222.05 325.84 L223.1 325.7 L224.15 325.56 L225.2 325.42 L226.25 325.29 L227.31 325.17 L228.36 325.04 L229.41 324.92 L230.46 324.81 L231.51 324.7 L232.56 324.59 L233.61 324.48 L234.66 324.38 L235.72 324.29 L236.77 324.19 L237.82 324.1 L238.87 324.01 L239.92 323.93 L240.97 323.85 L242.02 323.77 L243.07 323.7 L244.12 323.63 L245.18 323.56 L246.23 323.49 L247.28 323.43 L248.33 323.38 L249.38 323.32 L250.43 323.27 L251.48 323.22 L252.54 323.17 L253.59 323.13 L254.64 323.09 L255.69 323.05 L256.74 323.01 L257.79 322.98 L258.84 322.95 L259.89 322.92 L260.94 322.9 L262 322.88 L263.05 322.86 L264.1 322.84 L265.15 322.82 L266.2 322.81 L267.25 322.8 L268.3 322.79 L269.36 322.79 L270.41 322.78 L271.46 322.78 L272.51 322.78 L273.56 322.79 L274.61 322.79 L275.66 322.8 L276.71 322.81 L277.76 322.82 L278.82 322.84 L279.87 322.85 L280.92 322.87 L281.97 322.89 L283.02 322.91 L284.07 322.94 L285.12 322.96 L286.18 322.99 L287.23 323.02 L288.28 323.05 L289.33 323.08 L290.38 323.12 L291.43 323.15 L292.48 323.19 L293.53 323.23 L294.58 323.27 L295.64 323.31 L296.69 323.36 L297.74 323.4 L298.79 323.45 L299.84 323.5 L300.89 323.55 L301.94 323.6 L303 323.65 L304.05 323.7 L305.1 323.76 L306.15 323.82 L307.2 323.88 L308.25 323.94 L309.3 324 L310.35 324.06 L311.4 324.12 L312.46 324.19 L313.51 324.25 L314.56 324.32 L315.61 324.39 L316.66 324.45 L317.71 324.53 L318.76 324.6 L319.81 324.67 L320.87 324.74 L321.92 324.82 L322.97 324.89 L324.02 324.97 L325.07 325.05 L326.12 325.12 L327.17 325.2 L328.22 325.28 L329.28 325.36 L330.33 325.45 L331.38 325.53 L332.43 325.61 L333.48 325.7 L334.53 325.78 L335.58 325.87 L336.63 325.96 L337.69 326.04 L338.74 326.13 L339.79 326.22 L340.84 326.31 L341.89 326.4 L342.94 326.49 L343.99 326.59 L345.05 326.68 L346.1 326.77 L347.15 326.87 L348.2 326.96 L349.25 327.06 L350.3 327.15 L351.35 327.25 L352.4 327.34 L353.45 327.44 L354.51 327.54 L355.56 327.64 L356.61 327.74 L357.66 327.84 L358.71 327.94 L359.76 328.04 L360.81 328.14 L361.87 328.24 L362.92 328.34 L363.97 328.45 L365.02 328.55 L366.07 328.65 L367.12 328.76 L368.17 328.86 L369.22 328.96 L370.27 329.07 L371.33 329.17 L372.38 329.28 L373.43 329.39 L374.48 329.49 L375.53 329.6 L376.58 329.71 L377.63 329.81 L378.68 329.92 L379.74 330.03 L380.79 330.14 L381.84 330.25 L382.89 330.35 L383.94 330.46 L384.99 330.57 L386.04 330.68 L387.1 330.79 L388.15 330.9 L389.2 331.01 L390.25 331.12 L391.3 331.23 L392.35 331.35 L393.4 331.46 L394.45 331.57 L395.5 331.68 L396.56 331.79 L397.61 331.9 L398.66 332.01 L399.71 332.13 L400.76 332.24 L401.81 332.35 L402.86 332.46 L403.91 332.58 L404.97 332.69 L406.02 332.8 L407.07 332.92 L408.12 333.03 L409.17 333.14 L410.22 333.25 L411.27 333.37 L412.32 333.48 L413.38 333.6 L414.43 333.71 L415.48 333.82 L416.53 333.94 L417.58 334.05 L418.63 334.16 L419.68 334.28 L420.74 334.39 L421.79 334.51 L422.84 334.62 L423.89 334.73 L424.94 334.85 L425.99 334.96 L427.04 335.08 L428.09 335.19 L429.14 335.3 L430.2 335.42 L431.25 335.53 L432.3 335.65 L433.35 335.76 L434.4 335.88 L435.45 335.99 L436.5 336.1 L437.55 336.22 L438.61 336.33 L439.66 336.45 L440.71 336.56 L441.76 336.67 L442.81 336.79 L443.86 336.9 L444.91 337.02 L445.96 337.13 L447.02 337.24 L448.07 337.36 L449.12 337.47 L450.17 337.58 L451.22 337.7 L452.27 337.81 L453.32 337.92 L454.38 338.04 L455.43 338.15 L456.48 338.26 L457.53 338.38 L458.58 338.49 L459.63 338.6 L460.68 338.71 L461.73 338.83 L462.79 338.94 L463.84 339.05 L464.89 339.16 L465.94 339.28 L466.99 339.39 L468.04 339.5 L469.09 339.61 L470.14 339.72 L471.19 339.84 L472.25 339.95 L473.3 340.06 L474.35 340.17 L475.4 340.28" fill="none" stroke="#2a8ccc" stroke-width="1.4" clip-path="url(#c1)"/>
<path d="M54.9 416.8 L55.95 415.98 L57 415.15 L58.05 414.33 L59.1 413.5 L60.16 412.68 L61.21 411.85 L62.26 411.03 L63.31 410.2 L64.36 409.38 L65.41 408.56 L66.46 407.73 L67.52 406.91 L68.57 406.08 L69.62 405.26 L70.67 404.43 L71.72 403.61 L72.77 402.78 L73.82 401.96 L74.87 401.13 L75.92 400.31 L76.98 399.49 L78.03 398.66 L79.08 397.84 L80.13 397.01 L81.18 396.19 L82.23 395.36 L83.28 394.54 L84.34 393.71 L85.39 392.89 L86.44 392.06 L87.49 391.24 L88.54 390.42 L89.59 389.59 L90.64 388.77 L91.69 387.94 L92.75 387.12 L93.8 386.29 L94.85 385.47 L95.9 384.64 L96.95 383.82 L98 383 L99.05 382.17 L100.1 381.35 L101.16 380.52 L102.21 379.7 L103.26 378.87 L104.31 378.05 L105.36 377.22 L106.41 376.4 L107.46 375.57 L108.51 374.75 L109.56 373.93 L110.62 373.1 L111.67 372.28 L112.72 371.45 L113.77 370.63 L114.82 369.8 L115.87 368.98 L116.92 368.15 L117.97 367.33 L119.03 366.51 L120.08 365.68 L121.13 364.86 L122.18 364.03 L123.23 363.21 L124.28 362.38 L125.33 361.56 L126.38 360.73 L127.44 359.91 L128.49 359.08 L129.54 358.26 L130.59 357.44 L131.64 356.61 L132.69 355.79 L133.74 354.96 L134.8 354.14 L135.85 353.31 L136.9 352.49 L137.95 351.66 L139 350.84 L140.05 350.02 L141.1 349.19 L142.15 348.37 L143.21 347.54 L144.26 346.72 L145.31 345.89 L146.36 345.07 L147.41 344.24 L148.46 343.42 L149.51 342.6 L150.56 341.77 L151.62 340.95 L152.67 340.12 L153.72 339.3 L154.77 338.47 L155.82 337.65 L156.87 336.82 L157.92 336 L158.97 335.17 L160.03 334.35 L161.08 333.53 L162.13 332.7 L163.18 331.88 L164.23 331.05 L165.28 330.23 L166.33 329.4 L167.38 328.58 L168.44 327.75 L169.49 326.93 L170.54 326.11 L171.59 325.28 L172.64 324.46 L173.69 323.63 L174.74 322.81 L175.79 321.98 L176.84 321.16 L177.9 320.33 L178.95 319.51 L180 318.68 L181.05 317.86 L182.1 317.04 L183.15 316.21 L184.2 315.39 L185.25 314.56 L186.31 313.74 L187.36 312.91 L188.41 312.09 L189.46 311.26 L190.51 310.44 L191.56 309.62 L192.61 308.79 L193.67 307.97 L194.72 307.14 L195.77 306.32 L196.82 305.49 L197.87 304.67 L198.92 303.84 L199.97 303.02 L201.02 302.19 L202.08 301.37 L203.13 300.55 L204.18 299.72 L205.23 298.9 L206.28 298.07 L207.33 297.25 L208.38 296.42 L209.43 295.6 L210.49 294.77 L211.54 293.95 L212.59 293.12 L213.64 292.3 L214.69 291.48 L215.74 290.65 L216.79 289.83 L217.84 289 L218.9 288.18 L219.95 287.35 L221 286.53 L222.05 285.7 L223.1 284.88 L224.15 284.06 L225.2 283.23 L226.25 282.41 L227.31 281.58 L228.36 280.76 L229.41 279.93 L230.46 279.11 L231.51 278.28 L232.56 277.46 L233.61 276.63 L234.66 275.81 L235.72 274.99 L236.77 274.16 L237.82 273.34 L238.87 272.51 L239.92 271.69 L240.97 270.86 L242.02 270.04 L243.07 269.21 L244.12 268.39 L245.18 267.57 L246.23 266.74 L247.28 265.92 L248.33 265.09 L249.38 264.27 L250.43 263.44 L251.48 262.62 L252.54 261.79 L253.59 260.97 L254.64 260.14 L255.69 259.32 L256.74 258.5 L257.79 257.67 L258.84 256.85 L259.89 256.02 L260.94 255.2 L262 254.37 L263.05 253.55 L264.1 252.72 L265.15 251.9 L266.2 251.08 L267.25 250.25 L268.3 249.43 L269.36 248.6 L270.41 247.78 L271.46 246.95 L272.51 246.13 L273.56 245.3 L274.61 244.48 L275.66 243.66 L276.71 242.83 L277.76 242.01 L278.82 241.18 L279.87 240.36 L280.92 239.53 L281.97 238.71 L283.02 237.88 L284.07 237.06 L285.12 236.23 L286.18 235.41 L287.23 234.59 L288.28 233.76 L289.33 232.94 L290.38 232.11 L291.43 231.29 L292.48 230.46 L293.53 229.64 L294.58 228.81 L295.64 227.99 L296.69 227.16 L297.74 226.34 L298.79 225.52 L299.84 224.69 L300.89 223.87 L301.94 223.04 L303 222.22 L304.05 221.39 L305.1 220.57 L306.15 219.74 L307.2 218.92 L308.25 218.1 L309.3 217.27 L310.35 216.45 L311.4 215.62 L312.46 214.8 L313.51 213.97 L314.56 213.15 L315.61 212.32 L316.66 211.5 L317.71 210.68 L318.76 209.85 L319.81 209.03 L320.87 208.2 L321.92 207.38 L322.97 206.55 L324.02 205.73 L325.07 204.9 L326.12 204.08 L327.17 203.25 L328.22 202.43 L329.28 201.61 L330.33 200.78 L331.38 199.96 L332.43 199.13 L333.48 198.31 L334.53 197.48 L335.58 196.66 L336.63 195.83 L337.69 195.01 L338.74 194.19 L339.79 193.36 L340.84 192.54 L341.89 191.71 L342.94 190.89 L343.99 190.06 L345.05 189.24 L346.1 188.41 L347.15 187.59 L348.2 186.76 L349.25 185.94 L350.3 185.12 L351.35 184.29 L352.4 183.47 L353.45 182.64 L354.51 181.82 L355.56 180.99 L356.61 180.17 L357.66 179.34 L358.71 178.52 L359.76 177.69 L360.81 176.87 L361.87 176.05 L362.92 175.22 L363.97 174.4 L365.02 173.57 L366.07 172.75 L367.12 171.92 L368.17 171.1 L369.22 170.27 L370.27 169.45 L371.33 168.63 L372.38 167.8 L373.43 166.98 L374.48 166.15 L375.53 165.33 L376.58 164.5 L377.63 163.68 L378.68 162.85 L379.74 162.03 L380.79 161.2 L381.84 160.38 L382.89 159.56 L383.94 158.73 L384.99 157.91 L386.04 157.08 L387.1 156.26 L388.15 155.43 L389.2 154.61 L390.25 153.78 L391.3 152.96 L392.35 152.14 L393.4 151.31 L394.45 150.49 L395.5 149.66 L396.56 148.84 L397.61 148.01 L398.66 147.19 L399.71 146.36 L400.76 145.54 L401.81 144.71 L402.86 143.89 L403.91 143.07 L404.97 142.24 L406.02 141.42 L407.07 140.59 L408.12 139.77 L409.17 138.94 L410.22 138.12 L411.27 137.29 L412.32 136.47 L413.38 135.65 L414.43 134.82 L415.48 134 L416.53 133.17 L417.58 132.35 L418.63 131.52 L419.68 130.7 L420.74 129.87 L421.79 129.05 L422.84 128.23 L423.89 127.4 L424.94 126.58 L425.99 125.75 L427.04 124.93 L428.09 124.1 L429.14 123.28 L430.2 122.45 L431.25 121.63 L432.3 120.8 L433.35 119.98 L434.4 119.16 L435.45 118.33 L436.5 117.51 L437.55 116.68 L438.61 115.86 L439.66 115.03 L440.71 114.21 L441.76 113.38 L442.81 112.56 L443.86 111.74 L444.91 110.91 L445.96 110.09 L447.02 109.26 L448.07 108.44 L449.12 107.61 L450.17 106.79 L451.22 105.96 L452.27 105.14 L453.32 104.31 L454.38 103.49 L455.43 102.67 L456.48 101.84 L457.53 101.02 L458.58 100.19 L459.63 99.37 L460.68 98.54 L461.73 97.72 L462.79 96.89 L463.84 96.07 L464.89 95.24 L465.94 94.42 L466.99 93.6 L468.04 92.77 L469.09 91.95 L470.14 91.12 L471.19 90.3 L472.25 89.47 L473.3 88.65 L474.35 87.82 L475.4 87" fill="none" stroke="#3656d8" stroke-width="1.5" clip-path="url(#c1)"/>
<path d="M54.9 607.9 L55.95 608.01 L57 608.12 L58.05 608.23 L59.1 608.34 L60.16 608.45 L61.21 608.55 L62.26 608.66 L63.31 608.76 L64.36 608.87 L65.41 608.97 L66.46 609.07 L67.52 609.17 L68.57 609.26 L69.62 609.36 L70.67 609.46 L71.72 609.55 L72.77 609.64 L73.82 609.73 L74.87 609.83 L75.92 609.93 L76.98 610.04 L78.03 610.15 L79.08 610.25 L80.13 610.36 L81.18 610.47 L82.23 610.57 L83.28 610.67 L84.34 610.77 L85.39 610.85 L86.44 610.93 L87.49 611 L88.54 611.05 L89.59 611.09 L90.64 611.12 L91.69 611.13 L92.75 611.12 L93.8 611.09 L94.85 611.03 L95.9 610.94 L96.95 610.84 L98 610.72 L99.05 610.58 L100.1 610.43 L101.16 610.26 L102.21 610.09 L103.26 609.91 L104.31 609.72 L105.36 609.54 L106.41 609.35 L107.46 609.16 L108.51 608.98 L109.56 608.81 L110.62 608.63 L111.67 608.45 L112.72 608.25 L113.77 608.04 L114.82 607.82 L115.87 607.59 L116.92 607.36 L117.97 607.12 L119.03 606.88 L120.08 606.64 L121.13 606.41 L122.18 606.18 L123.23 605.96 L124.28 605.74 L125.33 605.54 L126.38 605.35 L127.44 605.18 L128.49 605.02 L129.54 604.88 L130.59 604.75 L131.64 604.62 L132.69 604.49 L133.74 604.38 L134.8 604.26 L135.85 604.15 L136.9 604.05 L137.95 603.94 L139 603.84 L140.05 603.74 L141.1 603.64 L142.15 603.54 L143.21 603.43 L144.26 603.33 L145.31 603.23 L146.36 603.12 L147.41 603.01 L148.46 602.9 L149.51 602.79 L150.56 602.67 L151.62 602.56 L152.67 602.44 L153.72 602.33 L154.77 602.21 L155.82 602.1 L156.87 601.99 L157.92 601.87 L158.97 601.76 L160.03 601.65 L161.08 601.55 L162.13 601.44 L163.18 601.34 L164.23 601.25 L165.28 601.15 L166.33 601.06 L167.38 600.97 L168.44 600.89 L169.49 600.81 L170.54 600.74 L171.59 600.68 L172.64 600.61 L173.69 600.56 L174.74 600.51 L175.79 600.46 L176.84 600.42 L177.9 600.37 L178.95 600.33 L180 600.29 L181.05 600.26 L182.1 600.22 L183.15 600.18 L184.2 600.15 L185.25 600.11 L186.31 600.07 L187.36 600.04 L188.41 600 L189.46 599.96 L190.51 599.92 L191.56 599.89 L192.61 599.85 L193.67 599.81 L194.72 599.77 L195.77 599.73 L196.82 599.7 L197.87 599.66 L198.92 599.62 L199.97 599.58 L201.02 599.55 L202.08 599.51 L203.13 599.48 L204.18 599.44 L205.23 599.41 L206.28 599.38 L207.33 599.34 L208.38 599.31 L209.43 599.28 L210.49 599.25 L211.54 599.22 L212.59 599.2 L213.64 599.17 L214.69 599.14 L215.74 599.12 L216.79 599.1 L217.84 599.08 L218.9 599.06 L219.95 599.04 L221 599.02 L222.05 599 L223.1 598.99 L224.15 598.97 L225.2 598.95 L226.25 598.94 L227.31 598.92 L228.36 598.91 L229.41 598.89 L230.46 598.87 L231.51 598.86 L232.56 598.85 L233.61 598.83 L234.66 598.82 L235.72 598.8 L236.77 598.79 L237.82 598.77 L238.87 598.76 L239.92 598.75 L240.97 598.74 L242.02 598.72 L243.07 598.71 L244.12 598.7 L245.18 598.68 L246.23 598.67 L247.28 598.66 L248.33 598.65 L249.38 598.64 L250.43 598.63 L251.48 598.61 L252.54 598.6 L253.59 598.59 L254.64 598.58 L255.69 598.57 L256.74 598.56 L257.79 598.55 L258.84 598.54 L259.89 598.53 L260.94 598.52 L262 598.51 L263.05 598.5 L264.1 598.49 L265.15 598.48 L266.2 598.47 L267.25 598.46 L268.3 598.45 L269.36 598.44 L270.41 598.43 L271.46 598.43 L272.51 598.42 L273.56 598.41 L274.61 598.4 L275.66 598.39 L276.71 598.38 L277.76 598.37 L278.82 598.37 L279.87 598.36 L280.92 598.35 L281.97 598.34 L283.02 598.33 L284.07 598.32 L285.12 598.32 L286.18 598.31 L287.23 598.3 L288.28 598.29 L289.33 598.28 L290.38 598.28 L291.43 598.27 L292.48 598.26 L293.53 598.25 L294.58 598.24 L295.64 598.24 L296.69 598.23 L297.74 598.22 L298.79 598.21 L299.84 598.2 L300.89 598.2 L301.94 598.19 L303 598.18 L304.05 598.17 L305.1 598.16 L306.15 598.16 L307.2 598.15 L308.25 598.14 L309.3 598.13 L310.35 598.12 L311.4 598.11 L312.46 598.11 L313.51 598.1 L314.56 598.09 L315.61 598.08 L316.66 598.07 L317.71 598.07 L318.76 598.06 L319.81 598.05 L320.87 598.04 L321.92 598.03 L322.97 598.03 L324.02 598.02 L325.07 598.01 L326.12 598 L327.17 598 L328.22 597.99 L329.28 597.98 L330.33 597.97 L331.38 597.96 L332.43 597.96 L333.48 597.95 L334.53 597.94 L335.58 597.94 L336.63 597.93 L337.69 597.92 L338.74 597.91 L339.79 597.91 L340.84 597.9 L341.89 597.89 L342.94 597.89 L343.99 597.88 L345.05 597.87 L346.1 597.87 L347.15 597.86 L348.2 597.85 L349.25 597.85 L350.3 597.84 L351.35 597.83 L352.4 597.83 L353.45 597.82 L354.51 597.82 L355.56 597.81 L356.61 597.81 L357.66 597.8 L358.71 597.8 L359.76 597.79 L360.81 597.78 L361.87 597.78 L362.92 597.78 L363.97 597.77 L365.02 597.77 L366.07 597.76 L367.12 597.76 L368.17 597.75 L369.22 597.75 L370.27 597.75 L371.33 597.74 L372.38 597.74 L373.43 597.73 L374.48 597.73 L375.53 597.73 L376.58 597.73 L377.63 597.72 L378.68 597.72 L379.74 597.72 L380.79 597.72 L381.84 597.71 L382.89 597.71 L383.94 597.71 L384.99 597.71 L386.04 597.7 L387.1 597.7 L388.15 597.7 L389.2 597.7 L390.25 597.7 L391.3 597.69 L392.35 597.69 L393.4 597.69 L394.45 597.69 L395.5 597.69 L396.56 597.68 L397.61 597.68 L398.66 597.68 L399.71 597.68 L400.76 597.68 L401.81 597.67 L402.86 597.67 L403.91 597.67 L404.97 597.67 L406.02 597.67 L407.07 597.66 L408.12 597.66 L409.17 597.66 L410.22 597.66 L411.27 597.66 L412.32 597.65 L413.38 597.65 L414.43 597.65 L415.48 597.65 L416.53 597.65 L417.58 597.65 L418.63 597.64 L419.68 597.64 L420.74 597.64 L421.79 597.64 L422.84 597.64 L423.89 597.64 L424.94 597.64 L425.99 597.63 L427.04 597.63 L428.09 597.63 L429.14 597.63 L430.2 597.63 L431.25 597.63 L432.3 597.63 L433.35 597.62 L434.4 597.62 L435.45 597.62 L436.5 597.62 L437.55 597.62 L438.61 597.62 L439.66 597.62 L440.71 597.62 L441.76 597.61 L442.81 597.61 L443.86 597.61 L444.91 597.61 L445.96 597.61 L447.02 597.61 L448.07 597.61 L449.12 597.61 L450.17 597.61 L451.22 597.61 L452.27 597.61 L453.32 597.6 L454.38 597.6 L455.43 597.6 L456.48 597.6 L457.53 597.6 L458.58 597.6 L459.63 597.6 L460.68 597.6 L461.73 597.6 L462.79 597.6 L463.84 597.6 L464.89 597.6 L465.94 597.6 L466.99 597.6 L468.04 597.6 L469.09 597.6 L470.14 597.6 L471.19 597.6 L472.25 597.6 L473.3 597.6 L474.35 597.6 L475.4 597.6" fill="none" stroke="#35cf50" stroke-width="1.4" clip-path="url(#c2)"/>
<path d="M54.9 610.51 L55.95 610.51 L57 610.52 L58.05 610.54 L59.1 610.58 L60.16 610.61 L61.21 610.66 L62.26 610.72 L63.31 610.78 L64.36 610.85 L65.41 610.93 L66.46 611.01 L67.52 611.11 L68.57 611.2 L69.62 611.31 L70.67 611.41 L71.72 611.53 L72.77 611.64 L73.82 611.76 L74.87 611.88 L75.92 612 L76.98 612.13 L78.03 612.25 L79.08 612.36 L80.13 612.48 L81.18 612.59 L82.23 612.69 L83.28 612.79 L84.34 612.87 L85.39 612.95 L86.44 613.01 L87.49 613.06 L88.54 613.09 L89.59 613.11 L90.64 613.11 L91.69 613.08 L92.75 613.04 L93.8 612.98 L94.85 612.9 L95.9 612.79 L96.95 612.66 L98 612.52 L99.05 612.35 L100.1 612.17 L101.16 611.96 L102.21 611.74 L103.26 611.5 L104.31 611.25 L105.36 610.98 L106.41 610.7 L107.46 610.41 L108.51 610.11 L109.56 609.8 L110.62 609.47 L111.67 609.14 L112.72 608.8 L113.77 608.46 L114.82 608.11 L115.87 607.75 L116.92 607.39 L117.97 607.02 L119.03 606.65 L120.08 606.27 L121.13 605.89 L122.18 605.51 L123.23 605.13 L124.28 604.74 L125.33 604.36 L126.38 603.97 L127.44 603.58 L128.49 603.19 L129.54 602.8 L130.59 602.41 L131.64 602.02 L132.69 601.63 L133.74 601.24 L134.8 600.85 L135.85 600.46 L136.9 600.07 L137.95 599.68 L139 599.3 L140.05 598.91 L141.1 598.53 L142.15 598.15 L143.21 597.77 L144.26 597.39 L145.31 597.01 L146.36 596.64 L147.41 596.27 L148.46 595.9 L149.51 595.53 L150.56 595.16 L151.62 594.8 L152.67 594.44 L153.72 594.08 L154.77 593.72 L155.82 593.37 L156.87 593.02 L157.92 592.67 L158.97 592.33 L160.03 591.98 L161.08 591.64 L162.13 591.31 L163.18 590.97 L164.23 590.64 L165.28 590.31 L166.33 589.99 L167.38 589.66 L168.44 589.34 L169.49 589.03 L170.54 588.71 L171.59 588.4 L172.64 588.09 L173.69 587.79 L174.74 587.49 L175.79 587.19 L176.84 586.89 L177.9 586.59 L178.95 586.3 L180 586.02 L181.05 585.73 L182.1 585.45 L183.15 585.17 L184.2 584.89 L185.25 584.62 L186.31 584.34 L187.36 584.08 L188.41 583.81 L189.46 583.55 L190.51 583.29 L191.56 583.03 L192.61 582.77 L193.67 582.52 L194.72 582.27 L195.77 582.03 L196.82 581.78 L197.87 581.54 L198.92 581.3 L199.97 581.06 L201.02 580.83 L202.08 580.6 L203.13 580.37 L204.18 580.14 L205.23 579.92 L206.28 579.7 L207.33 579.48 L208.38 579.26 L209.43 579.04 L210.49 578.83 L211.54 578.62 L212.59 578.41 L213.64 578.21 L214.69 578.01 L215.74 577.8 L216.79 577.61 L217.84 577.41 L218.9 577.21 L219.95 577.02 L221 576.83 L222.05 576.64 L223.1 576.46 L224.15 576.27 L225.2 576.09 L226.25 575.91 L227.31 575.73 L228.36 575.56 L229.41 575.38 L230.46 575.21 L231.51 575.04 L232.56 574.87 L233.61 574.7 L234.66 574.54 L235.72 574.38 L236.77 574.21 L237.82 574.05 L238.87 573.9 L239.92 573.74 L240.97 573.59 L242.02 573.43 L243.07 573.28 L244.12 573.13 L245.18 572.98 L246.23 572.84 L247.28 572.69 L248.33 572.55 L249.38 572.41 L250.43 572.27 L251.48 572.13 L252.54 571.99 L253.59 571.86 L254.64 571.72 L255.69 571.59 L256.74 571.46 L257.79 571.33 L258.84 571.2 L259.89 571.07 L260.94 570.94 L262 570.82 L263.05 570.7 L264.1 570.57 L265.15 570.45 L266.2 570.33 L267.25 570.22 L268.3 570.1 L269.36 569.98 L270.41 569.87 L271.46 569.76 L272.51 569.64 L273.56 569.53 L274.61 569.42 L275.66 569.31 L276.71 569.21 L277.76 569.1 L278.82 568.99 L279.87 568.89 L280.92 568.79 L281.97 568.68 L283.02 568.58 L284.07 568.48 L285.12 568.38 L286.18 568.29 L287.23 568.19 L288.28 568.09 L289.33 568 L290.38 567.9 L291.43 567.81 L292.48 567.72 L293.53 567.62 L294.58 567.53 L295.64 567.44 L296.69 567.36 L297.74 567.27 L298.79 567.18 L299.84 567.09 L300.89 567.01 L301.94 566.93 L303 566.84 L304.05 566.76 L305.1 566.68 L306.15 566.6 L307.2 566.51 L308.25 566.44 L309.3 566.36 L310.35 566.28 L311.4 566.2 L312.46 566.12 L313.51 566.05 L314.56 565.97 L315.61 565.9 L316.66 565.82 L317.71 565.75 L318.76 565.68 L319.81 565.61 L320.87 565.54 L321.92 565.47 L322.97 565.4 L324.02 565.33 L325.07 565.26 L326.12 565.19 L327.17 565.12 L328.22 565.06 L329.28 564.99 L330.33 564.93 L331.38 564.86 L332.43 564.8 L333.48 564.73 L334.53 564.67 L335.58 564.61 L336.63 564.55 L337.69 564.49 L338.74 564.43 L339.79 564.37 L340.84 564.31 L341.89 564.25 L342.94 564.19 L343.99 564.13 L345.05 564.07 L346.1 564.02 L347.15 563.96 L348.2 563.9 L349.25 563.85 L350.3 563.79 L351.35 563.74 L352.4 563.69 L353.45 563.63 L354.51 563.58 L355.56 563.53 L356.61 563.47 L357.66 563.42 L358.71 563.37 L359.76 563.32 L360.81 563.27 L361.87 563.22 L362.92 563.17 L363.97 563.12 L365.02 563.07 L366.07 563.03 L367.12 562.98 L368.17 562.93 L369.22 562.88 L370.27 562.84 L371.33 562.79 L372.38 562.75 L373.43 562.7 L374.48 562.65 L375.53 562.61 L376.58 562.57 L377.63 562.52 L378.68 562.48 L379.74 562.44 L380.79 562.39 L381.84 562.35 L382.89 562.31 L383.94 562.27 L384.99 562.23 L386.04 562.18 L387.1 562.14 L388.15 562.1 L389.2 562.06 L390.25 562.02 L391.3 561.98 L392.35 561.94 L393.4 561.91 L394.45 561.87 L395.5 561.83 L396.56 561.79 L397.61 561.75 L398.66 561.72 L399.71 561.68 L400.76 561.64 L401.81 561.61 L402.86 561.57 L403.91 561.53 L404.97 561.5 L406.02 561.46 L407.07 561.43 L408.12 561.39 L409.17 561.36 L410.22 561.33 L411.27 561.29 L412.32 561.26 L413.38 561.22 L414.43 561.19 L415.48 561.16 L416.53 561.13 L417.58 561.09 L418.63 561.06 L419.68 561.03 L420.74 561 L421.79 560.97 L422.84 560.94 L423.89 560.9 L424.94 560.87 L425.99 560.84 L427.04 560.81 L428.09 560.78 L429.14 560.75 L430.2 560.72 L431.25 560.69 L432.3 560.67 L433.35 560.64 L434.4 560.61 L435.45 560.58 L436.5 560.55 L437.55 560.52 L438.61 560.5 L439.66 560.47 L440.71 560.44 L441.76 560.41 L442.81 560.39 L443.86 560.36 L444.91 560.33 L445.96 560.31 L447.02 560.28 L448.07 560.25 L449.12 560.23 L450.17 560.2 L451.22 560.18 L452.27 560.15 L453.32 560.13 L454.38 560.1 L455.43 560.08 L456.48 560.05 L457.53 560.03 L458.58 560 L459.63 559.98 L460.68 559.96 L461.73 559.93 L462.79 559.91 L463.84 559.88 L464.89 559.86 L465.94 559.84 L466.99 559.82 L468.04 559.79 L469.09 559.77 L470.14 559.75 L471.19 559.73 L472.25 559.7 L473.3 559.68 L474.35 559.66 L475.4 559.64" fill="none" stroke="#27a087" stroke-width="1.4" clip-path="url(#c2)"/>
<path d="M54.9 610.51 L55.95 610.51 L57 610.52 L58.05 610.53 L59.1 610.56 L60.16 610.58 L61.21 610.62 L62.26 610.66 L63.31 610.71 L64.36 610.76 L65.41 610.82 L66.46 610.88 L67.52 610.95 L68.57 611.02 L69.62 611.1 L70.67 611.19 L71.72 611.27 L72.77 611.37 L73.82 611.46 L74.87 611.56 L75.92 611.66 L76.98 611.77 L78.03 611.87 L79.08 611.98 L80.13 612.08 L81.18 612.19 L82.23 612.3 L83.28 612.4 L84.34 612.5 L85.39 612.6 L86.44 612.69 L87.49 612.78 L88.54 612.86 L89.59 612.93 L90.64 612.99 L91.69 613.04 L92.75 613.08 L93.8 613.1 L94.85 613.11 L95.9 613.1 L96.95 613.08 L98 613.03 L99.05 612.97 L100.1 612.89 L101.16 612.79 L102.21 612.67 L103.26 612.52 L104.31 612.36 L105.36 612.18 L106.41 611.98 L107.46 611.76 L108.51 611.53 L109.56 611.27 L110.62 611 L111.67 610.71 L112.72 610.41 L113.77 610.1 L114.82 609.77 L115.87 609.42 L116.92 609.07 L117.97 608.7 L119.03 608.33 L120.08 607.94 L121.13 607.54 L122.18 607.13 L123.23 606.71 L124.28 606.29 L125.33 605.85 L126.38 605.41 L127.44 604.96 L128.49 604.5 L129.54 604.04 L130.59 603.57 L131.64 603.09 L132.69 602.61 L133.74 602.12 L134.8 601.62 L135.85 601.12 L136.9 600.61 L137.95 600.1 L139 599.59 L140.05 599.07 L141.1 598.54 L142.15 598.01 L143.21 597.48 L144.26 596.94 L145.31 596.4 L146.36 595.85 L147.41 595.3 L148.46 594.75 L149.51 594.2 L150.56 593.64 L151.62 593.07 L152.67 592.51 L153.72 591.94 L154.77 591.37 L155.82 590.8 L156.87 590.23 L157.92 589.65 L158.97 589.07 L160.03 588.49 L161.08 587.9 L162.13 587.32 L163.18 586.73 L164.23 586.14 L165.28 585.55 L166.33 584.96 L167.38 584.37 L168.44 583.77 L169.49 583.18 L170.54 582.58 L171.59 581.98 L172.64 581.38 L173.69 580.79 L174.74 580.19 L175.79 579.58 L176.84 578.98 L177.9 578.38 L178.95 577.78 L180 577.18 L181.05 576.57 L182.1 575.97 L183.15 575.37 L184.2 574.76 L185.25 574.16 L186.31 573.55 L187.36 572.95 L188.41 572.35 L189.46 571.75 L190.51 571.14 L191.56 570.54 L192.61 569.94 L193.67 569.34 L194.72 568.74 L195.77 568.14 L196.82 567.54 L197.87 566.94 L198.92 566.34 L199.97 565.74 L201.02 565.14 L202.08 564.55 L203.13 563.95 L204.18 563.36 L205.23 562.77 L206.28 562.17 L207.33 561.58 L208.38 560.99 L209.43 560.41 L210.49 559.82 L211.54 559.23 L212.59 558.65 L213.64 558.06 L214.69 557.48 L215.74 556.9 L216.79 556.32 L217.84 555.75 L218.9 555.17 L219.95 554.59 L221 554.02 L222.05 553.45 L223.1 552.88 L224.15 552.31 L225.2 551.75 L226.25 551.18 L227.31 550.62 L228.36 550.06 L229.41 549.5 L230.46 548.94 L231.51 548.38 L232.56 547.83 L233.61 547.28 L234.66 546.73 L235.72 546.18 L236.77 545.63 L237.82 545.09 L238.87 544.55 L239.92 544.01 L240.97 543.47 L242.02 542.93 L243.07 542.4 L244.12 541.86 L245.18 541.33 L246.23 540.81 L247.28 540.28 L248.33 539.76 L249.38 539.23 L250.43 538.71 L251.48 538.2 L252.54 537.68 L253.59 537.17 L254.64 536.66 L255.69 536.15 L256.74 535.64 L257.79 535.14 L258.84 534.63 L259.89 534.13 L260.94 533.63 L262 533.14 L263.05 532.64 L264.1 532.15 L265.15 531.66 L266.2 531.18 L267.25 530.69 L268.3 530.21 L269.36 529.73 L270.41 529.25 L271.46 528.77 L272.51 528.3 L273.56 527.83 L274.61 527.36 L275.66 526.89 L276.71 526.42 L277.76 525.96 L278.82 525.5 L279.87 525.04 L280.92 524.59 L281.97 524.13 L283.02 523.68 L284.07 523.23 L285.12 522.78 L286.18 522.34 L287.23 521.9 L288.28 521.46 L289.33 521.02 L290.38 520.58 L291.43 520.15 L292.48 519.72 L293.53 519.29 L294.58 518.86 L295.64 518.43 L296.69 518.01 L297.74 517.59 L298.79 517.17 L299.84 516.76 L300.89 516.34 L301.94 515.93 L303 515.52 L304.05 515.11 L305.1 514.71 L306.15 514.3 L307.2 513.9 L308.25 513.5 L309.3 513.1 L310.35 512.71 L311.4 512.32 L312.46 511.92 L313.51 511.54 L314.56 511.15 L315.61 510.76 L316.66 510.38 L317.71 510 L318.76 509.62 L319.81 509.25 L320.87 508.87 L321.92 508.5 L322.97 508.13 L324.02 507.76 L325.07 507.39 L326.12 507.03 L327.17 506.67 L328.22 506.31 L329.28 505.95 L330.33 505.59 L331.38 505.24 L332.43 504.89 L333.48 504.54 L334.53 504.19 L335.58 503.84 L336.63 503.5 L337.69 503.15 L338.74 502.81 L339.79 502.47 L340.84 502.13 L341.89 501.8 L342.94 501.47 L343.99 501.13 L345.05 500.8 L346.1 500.48 L347.15 500.15 L348.2 499.83 L349.25 499.5 L350.3 499.18 L351.35 498.86 L352.4 498.55 L353.45 498.23 L354.51 497.92 L355.56 497.61 L356.61 497.3 L357.66 496.99 L358.71 496.68 L359.76 496.38 L360.81 496.07 L361.87 495.77 L362.92 495.47 L363.97 495.17 L365.02 494.88 L366.07 494.58 L367.12 494.29 L368.17 494 L369.22 493.71 L370.27 493.42 L371.33 493.13 L372.38 492.85 L373.43 492.56 L374.48 492.28 L375.53 492 L376.58 491.72 L377.63 491.45 L378.68 491.17 L379.74 490.9 L380.79 490.62 L381.84 490.35 L382.89 490.08 L383.94 489.82 L384.99 489.55 L386.04 489.28 L387.1 489.02 L388.15 488.76 L389.2 488.5 L390.25 488.24 L391.3 487.98 L392.35 487.73 L393.4 487.47 L394.45 487.22 L395.5 486.97 L396.56 486.72 L397.61 486.47 L398.66 486.22 L399.71 485.97 L400.76 485.73 L401.81 485.49 L402.86 485.24 L403.91 485 L404.97 484.76 L406.02 484.53 L407.07 484.29 L408.12 484.05 L409.17 483.82 L410.22 483.59 L411.27 483.36 L412.32 483.13 L413.38 482.9 L414.43 482.67 L415.48 482.44 L416.53 482.22 L417.58 481.99 L418.63 481.77 L419.68 481.55 L420.74 481.33 L421.79 481.11 L422.84 480.89 L423.89 480.68 L424.94 480.46 L425.99 480.25 L427.04 480.03 L428.09 479.82 L429.14 479.61 L430.2 479.4 L431.25 479.2 L432.3 478.99 L433.35 478.78 L434.4 478.58 L435.45 478.37 L436.5 478.17 L437.55 477.97 L438.61 477.77 L439.66 477.57 L440.71 477.37 L441.76 477.18 L442.81 476.98 L443.86 476.78 L444.91 476.59 L445.96 476.4 L447.02 476.21 L448.07 476.02 L449.12 475.83 L450.17 475.64 L451.22 475.45 L452.27 475.26 L453.32 475.08 L454.38 474.89 L455.43 474.71 L456.48 474.53 L457.53 474.35 L458.58 474.17 L459.63 473.99 L460.68 473.81 L461.73 473.63 L462.79 473.45 L463.84 473.28 L464.89 473.1 L465.94 472.93 L466.99 472.76 L468.04 472.58 L469.09 472.41 L470.14 472.24 L471.19 472.07 L472.25 471.91 L473.3 471.74 L474.35 471.57 L475.4 471.41" fill="none" stroke="#2a8ccc" stroke-width="1.4" clip-path="url(#c2)"/>
<path d="M54.9 610.51 L55.95 610.51 L57 610.52 L58.05 610.53 L59.1 610.55 L60.16 610.57 L61.21 610.6 L62.26 610.64 L63.31 610.68 L64.36 610.73 L65.41 610.78 L66.46 610.84 L67.52 610.9 L68.57 610.96 L69.62 611.03 L70.67 611.11 L71.72 611.19 L72.77 611.27 L73.82 611.36 L74.87 611.45 L75.92 611.54 L76.98 611.63 L78.03 611.73 L79.08 611.83 L80.13 611.93 L81.18 612.03 L82.23 612.14 L83.28 612.24 L84.34 612.34 L85.39 612.44 L86.44 612.53 L87.49 612.63 L88.54 612.72 L89.59 612.8 L90.64 612.87 L91.69 612.94 L92.75 613 L93.8 613.05 L94.85 613.08 L95.9 613.1 L96.95 613.11 L98 613.1 L99.05 613.08 L100.1 613.03 L101.16 612.97 L102.21 612.89 L103.26 612.79 L104.31 612.67 L105.36 612.53 L106.41 612.37 L107.46 612.18 L108.51 611.98 L109.56 611.76 L110.62 611.52 L111.67 611.26 L112.72 610.98 L113.77 610.68 L114.82 610.37 L115.87 610.04 L116.92 609.69 L117.97 609.33 L119.03 608.96 L120.08 608.57 L121.13 608.16 L122.18 607.75 L123.23 607.32 L124.28 606.87 L125.33 606.42 L126.38 605.95 L127.44 605.47 L128.49 604.98 L129.54 604.48 L130.59 603.97 L131.64 603.45 L132.69 602.92 L133.74 602.37 L134.8 601.82 L135.85 601.26 L136.9 600.69 L137.95 600.1 L139 599.51 L140.05 598.91 L141.1 598.3 L142.15 597.68 L143.21 597.05 L144.26 596.41 L145.31 595.76 L146.36 595.11 L147.41 594.44 L148.46 593.77 L149.51 593.09 L150.56 592.39 L151.62 591.69 L152.67 590.99 L153.72 590.27 L154.77 589.54 L155.82 588.81 L156.87 588.07 L157.92 587.31 L158.97 586.55 L160.03 585.79 L161.08 585.01 L162.13 584.23 L163.18 583.43 L164.23 582.63 L165.28 581.82 L166.33 581 L167.38 580.18 L168.44 579.34 L169.49 578.5 L170.54 577.65 L171.59 576.79 L172.64 575.92 L173.69 575.05 L174.74 574.16 L175.79 573.27 L176.84 572.37 L177.9 571.46 L178.95 570.55 L180 569.62 L181.05 568.69 L182.1 567.75 L183.15 566.8 L184.2 565.85 L185.25 564.88 L186.31 563.91 L187.36 562.93 L188.41 561.94 L189.46 560.95 L190.51 559.94 L191.56 558.93 L192.61 557.91 L193.67 556.88 L194.72 555.84 L195.77 554.8 L196.82 553.75 L197.87 552.69 L198.92 551.62 L199.97 550.54 L201.02 549.46 L202.08 548.36 L203.13 547.26 L204.18 546.16 L205.23 545.04 L206.28 543.92 L207.33 542.78 L208.38 541.64 L209.43 540.49 L210.49 539.34 L211.54 538.17 L212.59 537 L213.64 535.82 L214.69 534.64 L215.74 533.44 L216.79 532.24 L217.84 531.02 L218.9 529.81 L219.95 528.58 L221 527.34 L222.05 526.1 L223.1 524.85 L224.15 523.59 L225.2 522.32 L226.25 521.05 L227.31 519.76 L228.36 518.47 L229.41 517.17 L230.46 515.87 L231.51 514.55 L232.56 513.23 L233.61 511.9 L234.66 510.56 L235.72 509.22 L236.77 507.86 L237.82 506.5 L238.87 505.13 L239.92 503.75 L240.97 502.37 L242.02 500.97 L243.07 499.57 L244.12 498.16 L245.18 496.75 L246.23 495.32 L247.28 493.89 L248.33 492.45 L249.38 491 L250.43 489.54 L251.48 488.08 L252.54 486.61 L253.59 485.13 L254.64 483.64 L255.69 482.14 L256.74 480.64 L257.79 479.12 L258.84 477.61 L259.89 476.08 L260.94 474.54 L262 473 L263.05 471.45 L264.1 469.89 L265.15 468.32 L266.2 466.75 L267.25 465.16 L268.3 463.57 L269.36 461.97 L270.41 460.37 L271.46 458.75 L272.51 457.13 L273.56 455.5 L274.61 453.86 L275.66 452.22 L276.71 450.56 L277.76 448.9 L278.82 447.23 L279.87 445.55 L280.92 443.87 L281.97 442.18 L283.02 440.48 L284.07 438.77 L285.12 437.05 L286.18 435.32 L287.23 433.59 L288.28 431.85 L289.33 430.1 L290.38 428.35 L291.43 426.58 L292.48 424.81 L293.53 423.03 L294.58 421.24 L295.64 419.45 L296.69 417.64 L297.74 415.83 L298.79 414.01 L299.84 412.19 L300.89 410.35 L301.94 408.51 L303 406.66 L304.05 404.8 L305.1 402.93 L306.15 401.06 L307.2 399.18 L308.25 397.29 L309.3 395.39 L310.35 393.48 L311.4 391.57 L312.46 389.65 L313.51 387.72 L314.56 385.78 L315.61 383.84 L316.66 381.88 L317.71 379.92 L318.76 377.95 L319.81 375.98 L320.87 373.99 L321.92 372 L322.97 370 L324.02 367.99 L325.07 365.98 L326.12 363.95 L327.17 361.92 L328.22 359.88 L329.28 357.83 L330.33 355.78 L331.38 353.72 L332.43 351.65 L333.48 349.57 L334.53 347.48 L335.58 345.38 L336.63 343.28 L337.69 341.17 L338.74 339.05 L339.79 336.93 L340.84 334.79 L341.89 332.65 L342.94 330.5 L343.99 328.34 L345.05 326.18 L346.1 324.01 L347.15 321.82 L348.2 319.64 L349.25 317.44 L350.3 315.23 L351.35 313.02 L352.4 310.8 L353.45 308.57 L354.51 306.34 L355.56 304.09 L356.61 301.84 L357.66 299.58 L358.71 297.31 L359.76 295.04 L360.81 292.75 L361.87 290.46 L362.92 288.16 L363.97 285.86 L365.02 283.54 L366.07 281.22 L367.12 278.89 L368.17 276.55 L369.22 274.2 L370.27 271.85 L371.33 269.49 L372.38 267.12 L373.43 264.74 L374.48 262.35 L375.53 259.96 L376.58 257.56 L377.63 255.15 L378.68 252.73 L379.74 250.31 L380.79 247.87 L381.84 245.43 L382.89 242.98 L383.94 240.53 L384.99 238.06 L386.04 235.59 L387.1 233.11 L388.15 230.62 L389.2 228.13 L390.25 225.62 L391.3 223.11 L392.35 220.59 L393.4 218.06 L394.45 215.53 L395.5 212.99 L396.56 210.44 L397.61 207.88 L398.66 205.31 L399.71 202.74 L400.76 200.15 L401.81 197.56 L402.86 194.97 L403.91 192.36 L404.97 189.75 L406.02 187.12 L407.07 184.49 L408.12 181.86 L409.17 179.21 L410.22 176.56 L411.27 173.9 L412.32 171.23 L413.38 168.55 L414.43 165.87 L415.48 163.18 L416.53 160.47 L417.58 157.77 L418.63 155.05 L419.68 152.33 L420.74 149.6 L421.79 146.86 L422.84 144.11 L423.89 141.35 L424.94 138.59 L425.99 135.82 L427.04 133.04 L428.09 130.25 L429.14 127.46 L430.2 124.66 L431.25 121.85 L432.3 119.03 L433.35 116.2 L434.4 113.37 L435.45 110.52 L436.5 107.68 L437.55 104.82 L438.61 101.95 L439.66 99.08 L440.71 96.2 L441.76 93.31 L442.81 90.41 L443.86 87.51 L444.91 84.59 L445.96 81.67 L447.02 78.75 L448.07 75.81 L449.12 72.87 L450.17 69.91 L451.22 66.95 L452.27 63.99 L453.32 61.01 L454.38 58.03 L455.43 55.04 L456.48 52.04 L457.53 49.03 L458.58 46.01 L459.63 42.99 L460.68 39.96 L461.73 36.92 L462.79 33.88 L463.84 30.82 L464.89 27.76 L465.94 24.69 L466.99 21.61 L468.04 18.53 L469.09 15.43 L470.14 12.33 L471.19 9.22 L472.25 6.11 L473.3 2.98 L474.35 -0.15 L475.4 -3.29" fill="none" stroke="#3656d8" stroke-width="1.5" clip-path="url(#c2)"/>
<g transform="translate(268.3 317.4)"><text x="0" y="0" font-family="Liberation Sans" font-size="16.0" fill="#151515" letter-spacing="1.0"><tspan font-family="Liberation Serif" font-style="italic">ν</tspan><tspan>=30</tspan></text></g>
<g transform="translate(257.2 364.3)"><text x="0" y="0" font-family="Liberation Sans" font-size="16.0" fill="#151515" letter-spacing="1.0"><tspan font-family="Liberation Serif" font-style="italic">ν</tspan><tspan font-style="italic">=<tspan id="o6" fill="transparent">1</tspan>0</tspan></text></g>
<g transform="translate(245.2 389.8)"><text x="0" y="0" font-family="Liberation Sans" font-size="16.0" fill="#151515" letter-spacing="1.0"><tspan font-family="Liberation Serif" font-style="italic">ν</tspan><tspan>=3</tspan></text></g>
<g transform="translate(167.3 322.7) rotate(-38.0)"><text x="0" y="0" font-family="Liberation Sans" font-size="16.0" fill="#151515">(Gaussian)</text></g>
<g transform="translate(176 291.5) rotate(-38.0)"><text x="0" y="0" font-family="Liberation Sans" font-size="16.0" fill="#151515" letter-spacing="1.0"><tspan font-family="Liberation Serif" font-style="italic">ν</tspan><tspan>=∞</tspan></text></g>
<g transform="translate(299 510.3) rotate(-19)"><text x="0" y="0" font-family="Liberation Sans" font-size="16.0" fill="#151515" letter-spacing="1.0"><tspan font-family="Liberation Serif" font-style="italic">ν</tspan><tspan>=30</tspan></text></g>
<g transform="translate(326 559)"><text x="0" y="0" font-family="Liberation Sans" font-size="16.0" fill="#151515" letter-spacing="1.0"><tspan font-family="Liberation Serif" font-style="italic">ν</tspan><tspan>=<tspan id="o7" fill="transparent">1</tspan>0</tspan></text></g>
<g transform="translate(344.4 591.6)"><text x="0" y="0" font-family="Liberation Sans" font-size="16.0" fill="#151515" letter-spacing="1.0"><tspan font-family="Liberation Serif" font-style="italic">ν</tspan><tspan>=3</tspan></text></g>
<g transform="translate(215.5 528) rotate(-52.0)"><text x="0" y="0" font-family="Liberation Sans" font-size="16.0" fill="#151515">(Gaussian)</text></g>
<g transform="translate(213.5 496) rotate(-52.0)"><text x="0" y="0" font-family="Liberation Sans" font-size="16.0" fill="#151515" letter-spacing="1.0"><tspan font-family="Liberation Serif" font-style="italic">ν</tspan><tspan>=∞</tspan></text></g>
<g transform="translate(24.9 406.6) rotate(-90)"><text x="0" y="0" font-family="Liberation Sans" font-size="16.7" fill="#151515">Influence on fitted <tspan font-family="Liberation Serif" font-weight="bold" font-style="italic" font-size="17">μ</tspan></text></g>
<g transform="translate(23.8 603.6) rotate(-90)"><text x="0" y="0" font-family="Liberation Sans" font-size="16.7" fill="#151515">Influence on fitted <tspan font-family="Liberation Serif" font-weight="bold" font-style="italic" font-size="17.6">C</tspan></text></g>
<text x="161.2" y="656.7" font-family="Liberation Sans" font-size="16.55" fill="#151515">Distance from cluster center</text><path d="M763 0H583V1147Q518 1085 412.5 1023T223 930V1104Q374 1175 487 1276T647 1472H763V0Z" fill="#151515" transform="translate(398.68 48.3) scale(0.00813 -0.00778)"/><path d="M763 0H583V1147Q518 1085 412.5 1023T223 930V1104Q374 1175 487 1276T647 1472H763V0Z" fill="#151515" transform="translate(468.71 433.3) scale(0.00586 -0.00561)"/><path d="M763 0H583V1147Q518 1085 412.5 1023T223 930V1104Q374 1175 487 1276T647 1472H763V0Z" fill="#151515" transform="translate(43.21 379.77) scale(0.00586 -0.00561)"/><path d="M763 0H583V1147Q518 1085 412.5 1023T223 930V1104Q374 1175 487 1276T647 1472H763V0Z" fill="#151515" transform="translate(468.71 635.9) scale(0.00586 -0.00561)"/><path d="M763 0H583V1147Q518 1085 412.5 1023T223 930V1104Q374 1175 487 1276T647 1472H763V0Z" fill="#151515" transform="translate(36.53 503.8) scale(0.00586 -0.00561)"/><path d="M763 0H583V1147Q518 1085 412.5 1023T223 930V1104Q374 1175 487 1276T647 1472H763V0Z" fill="#151515" transform="translate(36.53 443.9) scale(0.00586 -0.00561)"/><path d="M763 0H583V1147Q518 1085 412.5 1023T223 930V1104Q374 1175 487 1276T647 1472H763V0Z" fill="#151515" transform="translate(275.65 364.3) skewX(-12) scale(0.00781 -0.00748)"/><path d="M763 0H583V1147Q518 1085 412.5 1023T223 930V1104Q374 1175 487 1276T647 1472H763V0Z" fill="#151515" transform="translate(344.45 559) scale(0.00781 -0.00748)"/></svg>
</body></html>
